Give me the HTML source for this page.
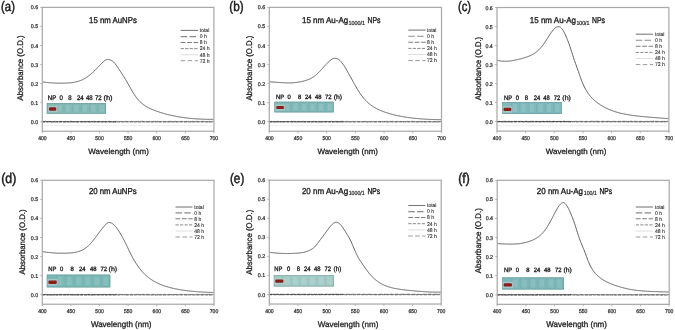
<!DOCTYPE html>
<html><head><meta charset="utf-8"><style>
html,body{margin:0;padding:0;background:#fff;width:675px;height:330px;overflow:hidden}
svg{display:block;filter:blur(0.3px)}
text{font-family:"Liberation Sans",sans-serif;font-size:200px;text-rendering:geometricPrecision}
</style></head><body>
<svg width="675" height="330" viewBox="0 0 675 330">
<defs><filter id="g" x="0" y="0" width="1" height="1"><feColorMatrix type="saturate" values="0"/></filter></defs>
<rect width="675" height="330" fill="#fff"/>
<path d="M43.30 125.73 L44.30 125.78 L45.30 125.73 L46.30 125.57 L47.30 125.79 L48.30 125.74 L49.30 125.65 L50.30 125.76 L51.30 125.74 L52.30 125.73 L53.30 125.70 L54.30 125.75 L55.30 125.63 L56.30 125.68 L57.30 125.65 L58.30 125.76 L59.30 125.70 L60.30 125.67 L61.30 125.62 L62.30 125.67 L63.30 125.70 L64.30 125.67 L65.30 125.83 L66.30 125.80 L67.30 125.43 L68.30 125.51 L69.30 125.68 L70.30 125.66 L71.30 125.72 L72.30 125.72 L73.30 125.91 L74.30 125.59 L75.30 125.66 L76.30 125.90 L77.30 125.76 L78.30 125.77 L79.30 125.65 L80.30 125.54 L81.30 125.72 L82.30 125.71 L83.30 125.58 L84.30 125.63 L85.30 125.69 L86.30 125.61 L87.30 125.69 L88.30 125.71 L89.30 125.70 L90.30 125.65 L91.30 125.76 L92.30 125.79 L93.30 125.73 L94.30 125.62 L95.30 125.77 L96.30 125.65 L97.30 125.79 L98.30 125.59 L99.30 125.79 L100.30 125.70 L101.30 125.58 L102.30 125.67 L103.30 125.71 L104.30 125.73 L105.30 125.60 L106.30 125.59 L107.30 125.72 L108.30 125.65 L109.30 125.72 L110.30 125.78 L111.30 125.54 L112.30 125.73 L113.30 125.82 L114.30 125.67 L115.30 125.62 L116.30 125.78 L117.30 125.73 L118.30 125.79 L119.30 125.67 L120.30 125.55 L121.30 125.69 L122.30 125.66 L123.30 125.78 L124.30 125.72 L125.30 125.54 L126.30 125.58 L127.30 125.79 L128.30 125.77 L129.30 125.64 L130.30 125.70 L131.30 125.74 L132.30 125.75 L133.30 125.79 L134.30 125.73 L135.30 125.69 L136.30 125.67 L137.30 125.81 L138.30 125.47 L139.30 125.69 L140.30 125.70 L141.30 125.56 L142.30 125.73 L143.30 125.63 L144.30 125.79 L145.30 125.69 L146.30 125.77 L147.30 125.82 L148.30 125.74 L149.30 125.61 L150.30 125.55 L151.30 125.88 L152.30 125.69 L153.30 125.63 L154.30 125.71 L155.30 125.68 L156.30 125.79 L157.30 125.70 L158.30 125.70 L159.30 125.63 L160.30 125.75 L161.30 125.60 L162.30 125.77 L163.30 125.85 L164.30 125.55 L165.30 125.45 L166.30 125.76 L167.30 125.95 L168.30 125.60 L169.30 125.57 L170.30 125.76 L171.30 125.62 L172.30 125.65 L173.30 125.67 L174.30 125.75 L175.30 125.66 L176.30 125.73 L177.30 125.68 L178.30 125.62 L179.30 125.67 L180.30 125.60 L181.30 125.70 L182.30 125.59 L183.30 125.59 L184.30 125.85 L185.30 125.69 L186.30 125.69 L187.30 125.75 L188.30 125.66 L189.30 125.68 L190.30 125.74 L191.30 125.73 L192.30 125.58 L193.30 125.78 L194.30 125.64 L195.30 125.59 L196.30 125.61 L197.30 125.66 L198.30 125.86 L199.30 125.58 L200.30 125.72 L201.30 125.49 L202.30 125.70 L203.30 125.79 L204.30 125.68 L205.30 125.64 L206.30 125.72 L207.30 125.77 L208.30 125.77 L209.30 125.90 L210.30 125.72 L211.30 125.64 L212.30 125.69" stroke="#ececec" stroke-width="0.9" fill="none"/>
<path d="M42.30 121.66 L45.30 121.63 L48.30 121.69 L51.30 121.72 L54.30 121.76 L57.30 121.71 L60.30 121.67 L63.30 121.66 L66.30 121.74 L69.30 121.78 L72.30 121.71 L75.30 121.64 L78.30 121.65 L81.30 121.78 L84.30 121.71 L87.30 121.61 L90.30 121.70 L93.30 121.64 L96.30 121.67 L99.30 121.68 L102.30 121.66 L105.30 121.73 L108.30 121.70 L111.30 121.67 L114.30 121.72 L117.30 121.74 L120.30 121.62 L123.30 121.69 L126.30 121.65 L129.30 121.69 L132.30 121.64 L135.30 121.70 L138.30 121.70 L141.30 121.68 L144.30 121.65 L147.30 121.68 L150.30 121.65 L153.30 121.63 L156.30 121.71 L159.30 121.64 L162.30 121.76 L165.30 121.74 L168.30 121.60 L171.30 121.71 L174.30 121.64 L177.30 121.70 L180.30 121.70 L183.30 121.60 L186.30 121.69 L189.30 121.69 L192.30 121.75 L195.30 121.64 L198.30 121.74 L201.30 121.65 L204.30 121.68 L207.30 121.66 L210.30 121.77 L213.30 121.73" stroke="#8a8a8a" stroke-width="0.8" fill="none"/>
<path d="M42.30 121.47 L43.30 121.41 L44.30 121.42 L45.30 121.25 L46.30 121.59 L47.30 121.54 L48.30 121.42 L49.30 121.51 L50.30 121.47 L51.30 121.41 L52.30 121.53 L53.30 121.43 L54.30 121.42 L55.30 121.39 L56.30 121.49 L57.30 121.44 L58.30 121.49 L59.30 121.40 L60.30 121.46 L61.30 121.38 L62.30 121.52 L63.30 121.47 L64.30 121.48 L65.30 121.48 L66.30 121.37 L67.30 121.51 L68.30 121.61 L69.30 121.32 L70.30 121.31 L71.30 121.33 L72.30 121.52 L73.30 121.46 L74.30 121.54 L75.30 121.51 L76.30 121.47 L77.30 121.47 L78.30 121.44 L79.30 121.52 L80.30 121.36 L81.30 121.42 L82.30 121.47 L83.30 121.59 L84.30 121.39 L85.30 121.36 L86.30 121.40 L87.30 121.53 L88.30 121.43 L89.30 121.56 L90.30 121.30 L91.30 121.54 L92.30 121.53 L93.30 121.34 L94.30 121.46 L95.30 121.55 L96.30 121.46 L97.30 121.53 L98.30 121.64 L99.30 121.47 L100.30 121.43 L101.30 121.39 L102.30 121.50 L103.30 121.43 L104.30 121.44 L105.30 121.44 L106.30 121.50 L107.30 121.36 L108.30 121.33 L109.30 121.26 L110.30 121.55 L111.30 121.46 L112.30 121.57 L113.30 121.45 L114.30 121.39 L115.30 121.49 L116.30 121.44 L117.30 121.35 L118.30 121.38 L119.30 121.59 L120.30 121.48 L121.30 121.48 L122.30 121.43 L123.30 121.39 L124.30 121.52 L125.30 121.44 L126.30 121.39 L127.30 121.44 L128.30 121.38 L129.30 121.47 L130.30 121.54 L131.30 121.38 L132.30 121.56 L133.30 121.40 L134.30 121.46 L135.30 121.38 L136.30 121.43 L137.30 121.45 L138.30 121.42 L139.30 121.39 L140.30 121.40 L141.30 121.38 L142.30 121.32 L143.30 121.43 L144.30 121.48 L145.30 121.52 L146.30 121.50 L147.30 121.65 L148.30 121.48 L149.30 121.41 L150.30 121.60 L151.30 121.37 L152.30 121.53 L153.30 121.37 L154.30 121.48 L155.30 121.29 L156.30 121.52 L157.30 121.44 L158.30 121.37 L159.30 121.58 L160.30 121.51 L161.30 121.45 L162.30 121.39 L163.30 121.45 L164.30 121.44 L165.30 121.51 L166.30 121.51 L167.30 121.40 L168.30 121.41 L169.30 121.41 L170.30 121.34 L171.30 121.40 L172.30 121.44 L173.30 121.51 L174.30 121.56 L175.30 121.39 L176.30 121.49 L177.30 121.41 L178.30 121.62 L179.30 121.45 L180.30 121.49 L181.30 121.38 L182.30 121.39 L183.30 121.47 L184.30 121.42 L185.30 121.48 L186.30 121.33 L187.30 121.50 L188.30 121.38 L189.30 121.59 L190.30 121.43 L191.30 121.54 L192.30 121.34 L193.30 121.48 L194.30 121.38 L195.30 121.41 L196.30 121.45 L197.30 121.42 L198.30 121.47 L199.30 121.51 L200.30 121.50 L201.30 121.44 L202.30 121.34 L203.30 121.39 L204.30 121.43 L205.30 121.28 L206.30 121.51 L207.30 121.43 L208.30 121.43 L209.30 121.53 L210.30 121.50 L211.30 121.47 L212.30 121.37 L213.30 121.47" stroke="#666" stroke-width="0.7" fill="none" stroke-dasharray="4 1.5"/>
<path d="M42.30 122.11 L43.30 121.75 L44.30 121.98 L45.30 121.90 L46.30 121.91 L47.30 121.93 L48.30 121.79 L49.30 121.93 L50.30 121.88 L51.30 122.22 L52.30 121.97 L53.30 121.92 L54.30 121.93 L55.30 121.90 L56.30 121.87 L57.30 121.92 L58.30 121.99 L59.30 121.93 L60.30 122.03 L61.30 121.93 L62.30 121.95 L63.30 122.07 L64.30 121.99 L65.30 121.91 L66.30 121.94 L67.30 121.99 L68.30 122.10 L69.30 121.93 L70.30 121.93 L71.30 122.03 L72.30 121.88 L73.30 121.93 L74.30 122.02 L75.30 122.00 L76.30 121.96 L77.30 122.00 L78.30 121.72 L79.30 122.03 L80.30 121.87 L81.30 121.82 L82.30 121.97 L83.30 122.01 L84.30 121.91 L85.30 121.86 L86.30 121.95 L87.30 121.95 L88.30 122.06 L89.30 122.01 L90.30 121.97 L91.30 122.04 L92.30 121.93 L93.30 121.88 L94.30 122.00 L95.30 122.00 L96.30 121.93 L97.30 121.89 L98.30 121.97 L99.30 121.75 L100.30 122.01 L101.30 121.99 L102.30 121.82 L103.30 121.95 L104.30 121.87 L105.30 122.01 L106.30 121.79 L107.30 121.88 L108.30 122.01 L109.30 122.04 L110.30 121.78 L111.30 121.91 L112.30 121.98 L113.30 121.90 L114.30 122.08 L115.30 121.85 L116.30 121.98 L117.30 121.87 L118.30 122.06 L119.30 121.95 L120.30 121.92 L121.30 121.81 L122.30 122.08 L123.30 122.01 L124.30 122.01 L125.30 122.04 L126.30 121.98 L127.30 121.90 L128.30 121.89 L129.30 121.89 L130.30 122.06 L131.30 121.83 L132.30 121.90 L133.30 121.92 L134.30 121.97 L135.30 122.00 L136.30 121.85 L137.30 121.81 L138.30 121.95 L139.30 122.05 L140.30 122.01 L141.30 121.97 L142.30 121.92 L143.30 121.97 L144.30 121.93 L145.30 122.02 L146.30 121.89 L147.30 121.96 L148.30 121.94 L149.30 121.99 L150.30 121.97 L151.30 122.15 L152.30 122.07 L153.30 122.07 L154.30 121.79 L155.30 121.92 L156.30 121.90 L157.30 121.99 L158.30 121.77 L159.30 122.04 L160.30 122.04 L161.30 121.85 L162.30 121.87 L163.30 121.89 L164.30 121.95 L165.30 122.00 L166.30 122.11 L167.30 121.93 L168.30 122.01 L169.30 121.96 L170.30 122.09 L171.30 122.01 L172.30 122.06 L173.30 121.86 L174.30 121.93 L175.30 121.88 L176.30 122.07 L177.30 122.00 L178.30 121.93 L179.30 121.91 L180.30 121.99 L181.30 121.89 L182.30 121.88 L183.30 121.99 L184.30 122.15 L185.30 121.93 L186.30 121.91 L187.30 121.86 L188.30 121.84 L189.30 121.99 L190.30 122.02 L191.30 121.95 L192.30 121.98 L193.30 121.96 L194.30 121.96 L195.30 121.83 L196.30 121.91 L197.30 121.96 L198.30 121.89 L199.30 121.91 L200.30 121.88 L201.30 121.92 L202.30 122.02 L203.30 121.92 L204.30 121.94 L205.30 122.02 L206.30 122.00 L207.30 122.09 L208.30 121.78 L209.30 122.02 L210.30 121.91 L211.30 121.96 L212.30 122.02 L213.30 122.04" stroke="#555" stroke-width="0.7" fill="none" stroke-dasharray="3 1.2"/>
<path d="M42.30 121.63 L43.30 121.68 L44.30 121.87 L45.30 121.77 L46.30 121.54 L47.30 121.70 L48.30 121.64 L49.30 121.71 L50.30 121.54 L51.30 121.72 L52.30 121.72 L53.30 121.86 L54.30 121.73 L55.30 121.75 L56.30 121.55 L57.30 121.93 L58.30 121.51 L59.30 121.81 L60.30 121.67 L61.30 121.61 L62.30 121.63 L63.30 121.63 L64.30 121.74 L65.30 121.69 L66.30 121.85 L67.30 121.52 L68.30 121.70 L69.30 121.61 L70.30 121.78 L71.30 121.49 L72.30 121.67 L73.30 121.72 L74.30 121.55 L75.30 121.80 L76.30 121.72 L77.30 121.80 L78.30 121.80 L79.30 121.60 L80.30 121.62 L81.30 121.68 L82.30 121.77 L83.30 121.79 L84.30 121.63 L85.30 121.64 L86.30 121.62 L87.30 121.64 L88.30 121.68 L89.30 121.69 L90.30 121.91 L91.30 121.65 L92.30 121.67 L93.30 121.75 L94.30 121.60 L95.30 121.66 L96.30 121.70 L97.30 121.78 L98.30 121.57 L99.30 121.84 L100.30 121.66 L101.30 121.72 L102.30 121.78 L103.30 121.77 L104.30 121.81 L105.30 121.72 L106.30 121.70 L107.30 121.73 L108.30 121.60 L109.30 121.82 L110.30 121.62 L111.30 121.57 L112.30 121.91 L113.30 121.69 L114.30 121.58 L115.30 121.89 L116.30 121.67" stroke="#333" stroke-width="0.8" fill="none" stroke-dasharray="2.5 1"/>
<path d="M42.60 81.94 L43.10 82.01 L43.60 82.08 L44.10 82.15 L44.60 82.21 L45.10 82.28 L45.60 82.34 L46.10 82.39 L46.60 82.45 L47.10 82.50 L47.60 82.56 L48.10 82.61 L48.60 82.65 L49.10 82.70 L49.60 82.74 L50.10 82.78 L50.60 82.82 L51.10 82.86 L51.60 82.89 L52.10 82.93 L52.60 82.96 L53.10 82.99 L53.60 83.01 L54.10 83.04 L54.60 83.06 L55.10 83.08 L55.60 83.10 L56.10 83.12 L56.60 83.14 L57.10 83.15 L57.60 83.17 L58.10 83.18 L58.60 83.19 L59.10 83.19 L59.60 83.20 L60.10 83.20 L60.60 83.21 L61.10 83.21 L61.60 83.20 L62.10 83.20 L62.60 83.19 L63.10 83.19 L63.60 83.18 L64.10 83.17 L64.60 83.15 L65.10 83.13 L65.60 83.11 L66.10 83.09 L66.60 83.07 L67.10 83.04 L67.60 83.01 L68.10 82.98 L68.60 82.94 L69.10 82.90 L69.60 82.86 L70.10 82.81 L70.60 82.76 L71.10 82.70 L71.60 82.64 L72.10 82.58 L72.60 82.51 L73.10 82.43 L73.60 82.35 L74.10 82.27 L74.60 82.17 L75.10 82.07 L75.60 81.97 L76.10 81.85 L76.60 81.73 L77.10 81.61 L77.60 81.47 L78.10 81.32 L78.60 81.17 L79.10 81.01 L79.60 80.84 L80.10 80.66 L80.60 80.46 L81.10 80.26 L81.60 80.05 L82.10 79.83 L82.60 79.60 L83.10 79.35 L83.60 79.10 L84.10 78.83 L84.60 78.55 L85.10 78.27 L85.60 77.97 L86.10 77.65 L86.60 77.33 L87.10 77.00 L87.60 76.65 L88.10 76.29 L88.60 75.93 L89.10 75.55 L89.60 75.16 L90.10 74.76 L90.60 74.35 L91.10 73.93 L91.60 73.50 L92.10 73.06 L92.60 72.61 L93.10 72.15 L93.60 71.68 L94.10 71.21 L94.60 70.72 L95.10 70.23 L95.60 69.73 L96.10 69.22 L96.60 68.70 L97.10 68.18 L97.60 67.65 L98.10 67.12 L98.60 66.58 L99.10 66.04 L99.60 65.50 L100.10 64.96 L100.60 64.42 L101.10 63.89 L101.60 63.37 L102.10 62.86 L102.60 62.37 L103.10 61.91 L103.60 61.46 L104.10 61.05 L104.60 60.67 L105.10 60.34 L105.60 60.04 L106.10 59.80 L106.60 59.61 L107.10 59.47 L107.60 59.40 L108.10 59.39 L108.60 59.44 L109.10 59.56 L109.60 59.72 L110.10 59.91 L110.60 60.11 L111.10 60.35 L111.60 60.61 L112.10 60.91 L112.60 61.26 L113.10 61.65 L113.60 62.09 L114.10 62.58 L114.60 63.13 L115.10 63.71 L115.60 64.34 L116.10 65.01 L116.60 65.70 L117.10 66.42 L117.60 67.15 L118.10 67.90 L118.60 68.66 L119.10 69.42 L119.60 70.18 L120.10 70.95 L120.60 71.71 L121.10 72.48 L121.60 73.25 L122.10 74.02 L122.60 74.80 L123.10 75.59 L123.60 76.38 L124.10 77.19 L124.60 77.99 L125.10 78.81 L125.60 79.63 L126.10 80.47 L126.60 81.31 L127.10 82.16 L127.60 83.01 L128.10 83.88 L128.60 84.75 L129.10 85.64 L129.60 86.53 L130.10 87.43 L130.60 88.33 L131.10 89.22 L131.60 90.11 L132.10 90.98 L132.60 91.83 L133.10 92.66 L133.60 93.47 L134.10 94.26 L134.60 95.02 L135.10 95.75 L135.60 96.46 L136.10 97.15 L136.60 97.81 L137.10 98.45 L137.60 99.06 L138.10 99.66 L138.60 100.22 L139.10 100.77 L139.60 101.29 L140.10 101.79 L140.60 102.27 L141.10 102.72 L141.60 103.16 L142.10 103.58 L142.60 103.98 L143.10 104.37 L143.60 104.74 L144.10 105.09 L144.60 105.44 L145.10 105.76 L145.60 106.08 L146.10 106.38 L146.60 106.68 L147.10 106.96 L147.60 107.24 L148.10 107.50 L148.60 107.76 L149.10 108.01 L149.60 108.26 L150.10 108.50 L150.60 108.73 L151.10 108.96 L151.60 109.18 L152.10 109.40 L152.60 109.62 L153.10 109.82 L153.60 110.03 L154.10 110.23 L154.60 110.43 L155.10 110.62 L155.60 110.81 L156.10 110.99 L156.60 111.17 L157.10 111.35 L157.60 111.53 L158.10 111.70 L158.60 111.87 L159.10 112.04 L159.60 112.20 L160.10 112.36 L160.60 112.52 L161.10 112.68 L161.60 112.83 L162.10 112.98 L162.60 113.13 L163.10 113.28 L163.60 113.42 L164.10 113.56 L164.60 113.70 L165.10 113.84 L165.60 113.98 L166.10 114.11 L166.60 114.24 L167.10 114.37 L167.60 114.50 L168.10 114.62 L168.60 114.75 L169.10 114.87 L169.60 114.99 L170.10 115.11 L170.60 115.22 L171.10 115.33 L171.60 115.45 L172.10 115.55 L172.60 115.66 L173.10 115.77 L173.60 115.87 L174.10 115.97 L174.60 116.07 L175.10 116.17 L175.60 116.27 L176.10 116.36 L176.60 116.46 L177.10 116.55 L177.60 116.64 L178.10 116.73 L178.60 116.81 L179.10 116.90 L179.60 116.98 L180.10 117.06 L180.60 117.14 L181.10 117.22 L181.60 117.30 L182.10 117.37 L182.60 117.44 L183.10 117.51 L183.60 117.58 L184.10 117.65 L184.60 117.72 L185.10 117.78 L185.60 117.85 L186.10 117.91 L186.60 117.97 L187.10 118.03 L187.60 118.09 L188.10 118.14 L188.60 118.20 L189.10 118.25 L189.60 118.30 L190.10 118.35 L190.60 118.40 L191.10 118.45 L191.60 118.50 L192.10 118.54 L192.60 118.59 L193.10 118.63 L193.60 118.67 L194.10 118.71 L194.60 118.75 L195.10 118.78 L195.60 118.82 L196.10 118.86 L196.60 118.89 L197.10 118.92 L197.60 118.95 L198.10 118.98 L198.60 119.01 L199.10 119.04 L199.60 119.06 L200.10 119.09 L200.60 119.11 L201.10 119.13 L201.60 119.16 L202.10 119.18 L202.60 119.20 L203.10 119.21 L203.60 119.23 L204.10 119.25 L204.60 119.26 L205.10 119.27 L205.60 119.29 L206.10 119.30 L206.60 119.31 L207.10 119.32 L207.60 119.32 L208.10 119.33 L208.60 119.34 L209.10 119.34 L209.60 119.34 L210.10 119.35 L210.60 119.35 L211.10 119.35 L211.60 119.35 L212.10 119.34 L212.60 119.34 L213.10 119.34 L213.60 119.33" stroke="#5e5e5e" stroke-width="1.0" fill="none"/>
<rect x="42.3" y="7.4" width="171.6" height="123.825" fill="none" stroke="#aaaaaa" stroke-width="1.25"/>
<line x1="40.3" y1="121.7" x2="42.3" y2="121.7" stroke="#aaaaaa" stroke-width="0.9"/>
<line x1="40.3" y1="102.65" x2="42.3" y2="102.65" stroke="#aaaaaa" stroke-width="0.9"/>
<line x1="40.3" y1="83.6" x2="42.3" y2="83.6" stroke="#aaaaaa" stroke-width="0.9"/>
<line x1="40.3" y1="64.55" x2="42.3" y2="64.55" stroke="#aaaaaa" stroke-width="0.9"/>
<line x1="40.3" y1="45.5" x2="42.3" y2="45.5" stroke="#aaaaaa" stroke-width="0.9"/>
<line x1="40.3" y1="26.45" x2="42.3" y2="26.45" stroke="#aaaaaa" stroke-width="0.9"/>
<line x1="40.3" y1="7.4" x2="42.3" y2="7.4" stroke="#aaaaaa" stroke-width="0.9"/>
<line x1="42.3" y1="131.225" x2="42.3" y2="133.225" stroke="#aaaaaa" stroke-width="0.9"/>
<line x1="70.9" y1="131.225" x2="70.9" y2="133.225" stroke="#aaaaaa" stroke-width="0.9"/>
<line x1="99.5" y1="131.225" x2="99.5" y2="133.225" stroke="#aaaaaa" stroke-width="0.9"/>
<line x1="128.1" y1="131.225" x2="128.1" y2="133.225" stroke="#aaaaaa" stroke-width="0.9"/>
<line x1="156.7" y1="131.225" x2="156.7" y2="133.225" stroke="#aaaaaa" stroke-width="0.9"/>
<line x1="185.3" y1="131.225" x2="185.3" y2="133.225" stroke="#aaaaaa" stroke-width="0.9"/>
<line x1="213.9" y1="131.225" x2="213.9" y2="133.225" stroke="#aaaaaa" stroke-width="0.9"/>
<line x1="180.7" y1="30.4" x2="198" y2="30.4" stroke="#7c7c7c" stroke-width="1.1"/>
<line x1="180.7" y1="36.6" x2="198" y2="36.6" stroke="#8a8a8a" stroke-width="1.1" stroke-dasharray="6.5 2.3"/>
<line x1="180.7" y1="42.5" x2="198" y2="42.5" stroke="#7c7c7c" stroke-width="1.1" stroke-dasharray="4.8 1.6"/>
<line x1="180.7" y1="48.6" x2="198" y2="48.6" stroke="#8a8a8a" stroke-width="1.0" stroke-dasharray="3.2 1.3"/>
<line x1="180.7" y1="54.8" x2="198" y2="54.8" stroke="#dddddd" stroke-width="1.0"/>
<line x1="180.7" y1="60.7" x2="198" y2="60.7" stroke="#9a9a9a" stroke-width="1.0" stroke-dasharray="4.5 2.5"/>
<rect x="46.8" y="103.1" width="59.2" height="10.6" fill="#82b9b6"/>
<rect x="47.15" y="103.45" width="58.5" height="9.9" fill="none" stroke="#6a9996" stroke-width="0.7" opacity="0.8"/>
<rect x="55.257" y="104.1" width="0.8" height="8.6" fill="#5c9a96" opacity="0.22"/>
<rect x="63.714" y="104.1" width="0.8" height="8.6" fill="#5c9a96" opacity="0.22"/>
<rect x="72.171" y="104.1" width="0.8" height="8.6" fill="#5c9a96" opacity="0.22"/>
<rect x="80.629" y="104.1" width="0.8" height="8.6" fill="#5c9a96" opacity="0.22"/>
<rect x="89.086" y="104.1" width="0.8" height="8.6" fill="#5c9a96" opacity="0.22"/>
<rect x="97.543" y="104.1" width="0.8" height="8.6" fill="#5c9a96" opacity="0.22"/>
<rect x="57.371" y="105.1" width="4.229" height="6.6" fill="#ffffff" opacity="0.1"/>
<rect x="65.829" y="105.1" width="4.229" height="6.6" fill="#ffffff" opacity="0.1"/>
<rect x="74.286" y="105.1" width="4.229" height="6.6" fill="#ffffff" opacity="0.1"/>
<rect x="82.743" y="105.1" width="4.229" height="6.6" fill="#ffffff" opacity="0.1"/>
<rect x="91.2" y="105.1" width="4.229" height="6.6" fill="#ffffff" opacity="0.1"/>
<rect x="99.657" y="105.1" width="4.229" height="6.6" fill="#ffffff" opacity="0.1"/>
<rect x="48.2" y="105.6" width="8.8" height="6.7" fill="#b5cfcc" opacity="0.7"/>
<rect x="49" y="107.2" width="7.2" height="3.5" rx="1.2" fill="#8c1c18"/>
<path d="M270.30 125.53 L271.30 125.57 L272.30 125.56 L273.30 125.66 L274.30 125.47 L275.30 125.68 L276.30 125.60 L277.30 125.79 L278.30 125.80 L279.30 125.84 L280.30 125.78 L281.30 125.69 L282.30 125.79 L283.30 125.85 L284.30 125.63 L285.30 125.76 L286.30 125.70 L287.30 125.84 L288.30 125.62 L289.30 125.67 L290.30 125.74 L291.30 125.73 L292.30 125.54 L293.30 125.74 L294.30 125.69 L295.30 125.68 L296.30 125.68 L297.30 125.72 L298.30 125.52 L299.30 125.86 L300.30 125.61 L301.30 125.48 L302.30 125.69 L303.30 125.85 L304.30 125.65 L305.30 125.86 L306.30 125.86 L307.30 125.61 L308.30 125.45 L309.30 125.58 L310.30 125.82 L311.30 125.62 L312.30 125.55 L313.30 125.57 L314.30 125.70 L315.30 125.70 L316.30 125.79 L317.30 125.80 L318.30 125.61 L319.30 125.68 L320.30 125.59 L321.30 125.71 L322.30 125.58 L323.30 125.58 L324.30 125.91 L325.30 125.70 L326.30 125.76 L327.30 125.95 L328.30 125.78 L329.30 125.69 L330.30 125.71 L331.30 125.63 L332.30 125.81 L333.30 125.67 L334.30 125.88 L335.30 125.67 L336.30 125.66 L337.30 125.66 L338.30 125.76 L339.30 125.72 L340.30 125.84 L341.30 125.64 L342.30 125.73 L343.30 125.89 L344.30 125.68 L345.30 125.75 L346.30 125.86 L347.30 125.76 L348.30 125.64 L349.30 125.49 L350.30 125.94 L351.30 125.74 L352.30 125.83 L353.30 125.65 L354.30 125.88 L355.30 125.75 L356.30 125.70 L357.30 125.61 L358.30 125.74 L359.30 125.65 L360.30 125.68 L361.30 125.54 L362.30 125.65 L363.30 125.72 L364.30 125.57 L365.30 125.71 L366.30 125.77 L367.30 125.67 L368.30 125.64 L369.30 125.64 L370.30 125.79 L371.30 125.55 L372.30 125.67 L373.30 125.66 L374.30 125.71 L375.30 125.69 L376.30 125.59 L377.30 125.90 L378.30 125.72 L379.30 125.57 L380.30 125.61 L381.30 125.71 L382.30 125.76 L383.30 125.57 L384.30 125.77 L385.30 125.56 L386.30 125.62 L387.30 125.79 L388.30 125.87 L389.30 125.69 L390.30 125.67 L391.30 125.83 L392.30 125.59 L393.30 125.73 L394.30 125.72 L395.30 125.80 L396.30 125.73 L397.30 125.67 L398.30 125.76 L399.30 125.59 L400.30 125.78 L401.30 125.63 L402.30 125.61 L403.30 125.66 L404.30 125.70 L405.30 125.77 L406.30 125.68 L407.30 125.77 L408.30 125.80 L409.30 125.69 L410.30 125.60 L411.30 125.79 L412.30 125.73 L413.30 125.49 L414.30 125.60 L415.30 125.71 L416.30 125.56 L417.30 125.63 L418.30 125.53 L419.30 125.74 L420.30 125.72 L421.30 125.72 L422.30 125.84 L423.30 125.66 L424.30 125.67 L425.30 125.90 L426.30 125.57 L427.30 125.77 L428.30 125.57 L429.30 125.72 L430.30 125.91 L431.30 125.73 L432.30 125.62 L433.30 125.94 L434.30 125.65 L435.30 125.68 L436.30 125.73 L437.30 125.57 L438.30 125.81 L439.30 125.86 L440.30 125.78" stroke="#ececec" stroke-width="0.9" fill="none"/>
<path d="M269.30 121.70 L272.30 121.75 L275.30 121.74 L278.30 121.74 L281.30 121.78 L284.30 121.64 L287.30 121.67 L290.30 121.63 L293.30 121.69 L296.30 121.75 L299.30 121.70 L302.30 121.72 L305.30 121.60 L308.30 121.71 L311.30 121.65 L314.30 121.79 L317.30 121.74 L320.30 121.75 L323.30 121.70 L326.30 121.73 L329.30 121.73 L332.30 121.68 L335.30 121.68 L338.30 121.69 L341.30 121.67 L344.30 121.67 L347.30 121.69 L350.30 121.66 L353.30 121.74 L356.30 121.62 L359.30 121.74 L362.30 121.67 L365.30 121.67 L368.30 121.63 L371.30 121.69 L374.30 121.69 L377.30 121.71 L380.30 121.67 L383.30 121.70 L386.30 121.79 L389.30 121.72 L392.30 121.67 L395.30 121.75 L398.30 121.69 L401.30 121.73 L404.30 121.73 L407.30 121.68 L410.30 121.60 L413.30 121.68 L416.30 121.73 L419.30 121.68 L422.30 121.72 L425.30 121.75 L428.30 121.67 L431.30 121.76 L434.30 121.78 L437.30 121.75 L440.30 121.76" stroke="#8a8a8a" stroke-width="0.8" fill="none"/>
<path d="M269.30 121.39 L270.30 121.47 L271.30 121.32 L272.30 121.50 L273.30 121.54 L274.30 121.41 L275.30 121.48 L276.30 121.47 L277.30 121.42 L278.30 121.38 L279.30 121.29 L280.30 121.56 L281.30 121.45 L282.30 121.65 L283.30 121.52 L284.30 121.47 L285.30 121.40 L286.30 121.56 L287.30 121.41 L288.30 121.58 L289.30 121.42 L290.30 121.46 L291.30 121.33 L292.30 121.64 L293.30 121.44 L294.30 121.42 L295.30 121.51 L296.30 121.38 L297.30 121.51 L298.30 121.36 L299.30 121.49 L300.30 121.37 L301.30 121.30 L302.30 121.40 L303.30 121.33 L304.30 121.49 L305.30 121.45 L306.30 121.49 L307.30 121.46 L308.30 121.42 L309.30 121.45 L310.30 121.53 L311.30 121.44 L312.30 121.39 L313.30 121.37 L314.30 121.43 L315.30 121.39 L316.30 121.60 L317.30 121.36 L318.30 121.36 L319.30 121.43 L320.30 121.50 L321.30 121.43 L322.30 121.37 L323.30 121.39 L324.30 121.42 L325.30 121.53 L326.30 121.37 L327.30 121.44 L328.30 121.40 L329.30 121.48 L330.30 121.48 L331.30 121.33 L332.30 121.64 L333.30 121.47 L334.30 121.41 L335.30 121.38 L336.30 121.43 L337.30 121.45 L338.30 121.50 L339.30 121.45 L340.30 121.49 L341.30 121.32 L342.30 121.39 L343.30 121.37 L344.30 121.46 L345.30 121.49 L346.30 121.33 L347.30 121.44 L348.30 121.51 L349.30 121.52 L350.30 121.36 L351.30 121.50 L352.30 121.48 L353.30 121.42 L354.30 121.61 L355.30 121.36 L356.30 121.43 L357.30 121.49 L358.30 121.47 L359.30 121.44 L360.30 121.56 L361.30 121.57 L362.30 121.52 L363.30 121.53 L364.30 121.45 L365.30 121.36 L366.30 121.63 L367.30 121.37 L368.30 121.63 L369.30 121.44 L370.30 121.47 L371.30 121.44 L372.30 121.53 L373.30 121.41 L374.30 121.60 L375.30 121.49 L376.30 121.46 L377.30 121.40 L378.30 121.47 L379.30 121.45 L380.30 121.60 L381.30 121.52 L382.30 121.33 L383.30 121.57 L384.30 121.26 L385.30 121.57 L386.30 121.30 L387.30 121.45 L388.30 121.51 L389.30 121.45 L390.30 121.36 L391.30 121.55 L392.30 121.31 L393.30 121.33 L394.30 121.56 L395.30 121.38 L396.30 121.47 L397.30 121.51 L398.30 121.44 L399.30 121.47 L400.30 121.46 L401.30 121.47 L402.30 121.54 L403.30 121.52 L404.30 121.48 L405.30 121.52 L406.30 121.41 L407.30 121.39 L408.30 121.37 L409.30 121.51 L410.30 121.58 L411.30 121.46 L412.30 121.29 L413.30 121.41 L414.30 121.49 L415.30 121.47 L416.30 121.46 L417.30 121.53 L418.30 121.52 L419.30 121.34 L420.30 121.48 L421.30 121.39 L422.30 121.47 L423.30 121.55 L424.30 121.60 L425.30 121.51 L426.30 121.41 L427.30 121.42 L428.30 121.49 L429.30 121.37 L430.30 121.44 L431.30 121.50 L432.30 121.52 L433.30 121.43 L434.30 121.48 L435.30 121.56 L436.30 121.47 L437.30 121.31 L438.30 121.47 L439.30 121.47 L440.30 121.42 L441.30 121.45" stroke="#666" stroke-width="0.7" fill="none" stroke-dasharray="4 1.5"/>
<path d="M269.30 121.86 L270.30 121.89 L271.30 121.89 L272.30 121.97 L273.30 121.93 L274.30 121.96 L275.30 122.02 L276.30 122.02 L277.30 121.99 L278.30 121.91 L279.30 121.89 L280.30 121.88 L281.30 121.92 L282.30 121.95 L283.30 121.87 L284.30 121.86 L285.30 121.97 L286.30 121.80 L287.30 121.94 L288.30 121.98 L289.30 121.87 L290.30 121.86 L291.30 121.89 L292.30 122.00 L293.30 121.94 L294.30 121.80 L295.30 121.92 L296.30 122.03 L297.30 122.03 L298.30 122.00 L299.30 121.93 L300.30 121.80 L301.30 121.96 L302.30 121.94 L303.30 121.96 L304.30 122.07 L305.30 121.96 L306.30 121.97 L307.30 122.00 L308.30 121.93 L309.30 121.90 L310.30 121.89 L311.30 122.01 L312.30 121.99 L313.30 121.91 L314.30 122.04 L315.30 121.96 L316.30 121.84 L317.30 122.00 L318.30 121.94 L319.30 121.84 L320.30 121.99 L321.30 121.92 L322.30 121.92 L323.30 122.00 L324.30 121.77 L325.30 121.85 L326.30 121.92 L327.30 121.97 L328.30 121.90 L329.30 121.87 L330.30 121.87 L331.30 121.94 L332.30 122.00 L333.30 121.83 L334.30 121.78 L335.30 121.93 L336.30 121.92 L337.30 121.88 L338.30 122.00 L339.30 122.01 L340.30 121.90 L341.30 121.92 L342.30 122.00 L343.30 121.92 L344.30 121.84 L345.30 121.94 L346.30 121.88 L347.30 121.98 L348.30 121.91 L349.30 121.93 L350.30 121.99 L351.30 121.94 L352.30 121.90 L353.30 121.87 L354.30 122.09 L355.30 122.04 L356.30 121.83 L357.30 121.87 L358.30 122.00 L359.30 121.90 L360.30 121.95 L361.30 122.02 L362.30 121.96 L363.30 121.94 L364.30 121.91 L365.30 121.94 L366.30 121.98 L367.30 122.09 L368.30 122.04 L369.30 121.93 L370.30 122.02 L371.30 121.96 L372.30 121.83 L373.30 121.94 L374.30 122.03 L375.30 121.90 L376.30 122.02 L377.30 121.93 L378.30 121.95 L379.30 121.85 L380.30 122.12 L381.30 121.99 L382.30 122.03 L383.30 121.91 L384.30 121.83 L385.30 122.05 L386.30 121.89 L387.30 122.08 L388.30 121.94 L389.30 122.08 L390.30 121.89 L391.30 121.81 L392.30 122.01 L393.30 121.94 L394.30 121.95 L395.30 122.03 L396.30 121.88 L397.30 121.85 L398.30 121.86 L399.30 121.82 L400.30 121.81 L401.30 121.85 L402.30 121.87 L403.30 121.91 L404.30 121.85 L405.30 121.94 L406.30 122.01 L407.30 121.93 L408.30 121.98 L409.30 121.87 L410.30 121.97 L411.30 121.98 L412.30 121.89 L413.30 121.82 L414.30 121.93 L415.30 121.94 L416.30 122.05 L417.30 121.91 L418.30 122.07 L419.30 121.75 L420.30 121.91 L421.30 121.90 L422.30 121.91 L423.30 121.89 L424.30 121.93 L425.30 122.07 L426.30 121.92 L427.30 122.03 L428.30 121.93 L429.30 121.94 L430.30 121.75 L431.30 121.94 L432.30 121.98 L433.30 121.84 L434.30 121.89 L435.30 121.87 L436.30 122.10 L437.30 121.86 L438.30 121.88 L439.30 121.72 L440.30 121.81 L441.30 121.95" stroke="#555" stroke-width="0.7" fill="none" stroke-dasharray="3 1.2"/>
<path d="M269.30 121.70 L270.30 121.84 L271.30 121.82 L272.30 121.65 L273.30 121.67 L274.30 121.65 L275.30 121.76 L276.30 121.69 L277.30 121.77 L278.30 121.52 L279.30 121.86 L280.30 121.69 L281.30 121.77 L282.30 121.69 L283.30 121.66 L284.30 121.75 L285.30 121.78 L286.30 121.68 L287.30 121.68 L288.30 121.77 L289.30 121.61 L290.30 121.55 L291.30 121.74 L292.30 121.63 L293.30 121.51 L294.30 121.62 L295.30 121.65 L296.30 121.58 L297.30 121.55 L298.30 121.70 L299.30 121.79 L300.30 121.68 L301.30 121.63 L302.30 121.74 L303.30 121.77 L304.30 121.67 L305.30 121.75 L306.30 121.80 L307.30 121.68 L308.30 121.62 L309.30 121.73 L310.30 121.72 L311.30 121.81 L312.30 121.57 L313.30 121.63 L314.30 121.62 L315.30 121.53 L316.30 121.71 L317.30 121.75 L318.30 121.63 L319.30 121.84 L320.30 121.78 L321.30 121.76 L322.30 121.74 L323.30 121.80 L324.30 121.57 L325.30 121.76 L326.30 121.76 L327.30 121.52 L328.30 121.73 L329.30 121.67 L330.30 121.78 L331.30 121.66 L332.30 121.70 L333.30 121.73 L334.30 121.61 L335.30 121.76 L336.30 121.69 L337.30 121.75 L338.30 121.65 L339.30 121.81 L340.30 121.76 L341.30 121.68 L342.30 121.76 L343.30 121.83" stroke="#333" stroke-width="0.8" fill="none" stroke-dasharray="2.5 1"/>
<path d="M269.60 81.79 L270.10 81.82 L270.60 81.86 L271.10 81.89 L271.60 81.93 L272.10 81.96 L272.60 82.00 L273.10 82.04 L273.60 82.07 L274.10 82.11 L274.60 82.15 L275.10 82.19 L275.60 82.22 L276.10 82.26 L276.60 82.30 L277.10 82.33 L277.60 82.37 L278.10 82.40 L278.61 82.44 L279.11 82.47 L279.61 82.51 L280.11 82.54 L280.61 82.57 L281.11 82.60 L281.61 82.63 L282.11 82.66 L282.61 82.69 L283.11 82.71 L283.61 82.74 L284.11 82.76 L284.61 82.78 L285.11 82.80 L285.61 82.82 L286.11 82.84 L286.61 82.85 L287.11 82.86 L287.61 82.87 L288.11 82.88 L288.61 82.88 L289.11 82.89 L289.61 82.88 L290.11 82.88 L290.61 82.87 L291.11 82.86 L291.61 82.84 L292.11 82.82 L292.61 82.80 L293.11 82.77 L293.61 82.73 L294.11 82.69 L294.61 82.65 L295.11 82.60 L295.62 82.54 L296.12 82.48 L296.62 82.42 L297.12 82.35 L297.62 82.28 L298.12 82.20 L298.62 82.12 L299.12 82.04 L299.62 81.95 L300.12 81.86 L300.62 81.76 L301.12 81.66 L301.62 81.55 L302.12 81.44 L302.62 81.33 L303.12 81.21 L303.62 81.09 L304.12 80.96 L304.62 80.83 L305.12 80.69 L305.62 80.54 L306.12 80.38 L306.62 80.22 L307.12 80.04 L307.62 79.86 L308.12 79.67 L308.62 79.46 L309.12 79.25 L309.62 79.02 L310.12 78.78 L310.62 78.53 L311.12 78.26 L311.62 77.99 L312.12 77.70 L312.63 77.39 L313.13 77.07 L313.63 76.73 L314.13 76.39 L314.63 76.02 L315.13 75.64 L315.63 75.24 L316.13 74.83 L316.63 74.40 L317.13 73.96 L317.63 73.50 L318.13 73.03 L318.63 72.54 L319.13 72.04 L319.63 71.52 L320.13 71.00 L320.63 70.46 L321.13 69.92 L321.63 69.37 L322.13 68.82 L322.63 68.26 L323.13 67.69 L323.63 67.13 L324.13 66.57 L324.63 66.00 L325.13 65.45 L325.63 64.89 L326.13 64.35 L326.63 63.81 L327.13 63.29 L327.63 62.77 L328.13 62.28 L328.63 61.80 L329.13 61.34 L329.63 60.90 L330.14 60.49 L330.64 60.10 L331.14 59.75 L331.64 59.43 L332.14 59.14 L332.64 58.89 L333.14 58.68 L333.64 58.51 L334.14 58.39 L334.64 58.31 L335.14 58.28 L335.64 58.30 L336.14 58.37 L336.64 58.49 L337.14 58.66 L337.64 58.89 L338.14 59.16 L338.64 59.49 L339.14 59.86 L339.64 60.29 L340.14 60.76 L340.64 61.28 L341.14 61.84 L341.64 62.44 L342.14 63.07 L342.64 63.75 L343.14 64.45 L343.64 65.19 L344.14 65.95 L344.64 66.73 L345.14 67.54 L345.64 68.36 L346.14 69.21 L346.64 70.06 L347.15 70.93 L347.65 71.80 L348.15 72.69 L348.65 73.58 L349.15 74.47 L349.65 75.38 L350.15 76.28 L350.65 77.19 L351.15 78.10 L351.65 79.01 L352.15 79.91 L352.65 80.82 L353.15 81.73 L353.65 82.63 L354.15 83.53 L354.65 84.42 L355.15 85.31 L355.65 86.18 L356.15 87.05 L356.65 87.91 L357.15 88.75 L357.65 89.58 L358.15 90.40 L358.65 91.20 L359.15 91.98 L359.65 92.74 L360.15 93.49 L360.65 94.21 L361.15 94.92 L361.65 95.60 L362.15 96.27 L362.65 96.92 L363.15 97.55 L363.65 98.16 L364.16 98.75 L364.66 99.32 L365.16 99.88 L365.66 100.41 L366.16 100.93 L366.66 101.43 L367.16 101.92 L367.66 102.39 L368.16 102.84 L368.66 103.28 L369.16 103.71 L369.66 104.11 L370.16 104.51 L370.66 104.89 L371.16 105.26 L371.66 105.62 L372.16 105.96 L372.66 106.30 L373.16 106.62 L373.66 106.94 L374.16 107.24 L374.66 107.54 L375.16 107.82 L375.66 108.10 L376.16 108.37 L376.66 108.63 L377.16 108.89 L377.66 109.14 L378.16 109.38 L378.66 109.61 L379.16 109.84 L379.66 110.07 L380.16 110.29 L380.66 110.50 L381.17 110.71 L381.67 110.91 L382.17 111.11 L382.67 111.31 L383.17 111.50 L383.67 111.68 L384.17 111.87 L384.67 112.05 L385.17 112.22 L385.67 112.39 L386.17 112.56 L386.67 112.73 L387.17 112.89 L387.67 113.05 L388.17 113.20 L388.67 113.35 L389.17 113.50 L389.67 113.65 L390.17 113.79 L390.67 113.93 L391.17 114.07 L391.67 114.21 L392.17 114.34 L392.67 114.47 L393.17 114.60 L393.67 114.73 L394.17 114.85 L394.67 114.97 L395.17 115.09 L395.67 115.21 L396.17 115.33 L396.67 115.44 L397.17 115.55 L397.67 115.66 L398.17 115.76 L398.68 115.87 L399.18 115.97 L399.68 116.07 L400.18 116.17 L400.68 116.27 L401.18 116.36 L401.68 116.45 L402.18 116.55 L402.68 116.64 L403.18 116.72 L403.68 116.81 L404.18 116.89 L404.68 116.97 L405.18 117.06 L405.68 117.13 L406.18 117.21 L406.68 117.29 L407.18 117.36 L407.68 117.43 L408.18 117.51 L408.68 117.58 L409.18 117.64 L409.68 117.71 L410.18 117.78 L410.68 117.84 L411.18 117.90 L411.68 117.96 L412.18 118.02 L412.68 118.08 L413.18 118.14 L413.68 118.19 L414.18 118.25 L414.68 118.30 L415.18 118.35 L415.69 118.40 L416.19 118.45 L416.69 118.50 L417.19 118.55 L417.69 118.59 L418.19 118.64 L418.69 118.68 L419.19 118.72 L419.69 118.77 L420.19 118.81 L420.69 118.84 L421.19 118.88 L421.69 118.92 L422.19 118.96 L422.69 118.99 L423.19 119.02 L423.69 119.06 L424.19 119.09 L424.69 119.12 L425.19 119.15 L425.69 119.18 L426.19 119.21 L426.69 119.24 L427.19 119.26 L427.69 119.29 L428.19 119.31 L428.69 119.34 L429.19 119.36 L429.69 119.38 L430.19 119.40 L430.69 119.42 L431.19 119.44 L431.69 119.46 L432.19 119.48 L432.70 119.49 L433.20 119.51 L433.70 119.52 L434.20 119.54 L434.70 119.55 L435.20 119.56 L435.70 119.57 L436.20 119.59 L436.70 119.60 L437.20 119.60 L437.70 119.61 L438.20 119.62 L438.70 119.63 L439.20 119.63 L439.70 119.64 L440.20 119.64 L440.70 119.65 L441.20 119.65" stroke="#5e5e5e" stroke-width="1.0" fill="none"/>
<rect x="269.3" y="7.4" width="172.2" height="123.825" fill="none" stroke="#aaaaaa" stroke-width="1.25"/>
<line x1="267.3" y1="121.7" x2="269.3" y2="121.7" stroke="#aaaaaa" stroke-width="0.9"/>
<line x1="267.3" y1="102.65" x2="269.3" y2="102.65" stroke="#aaaaaa" stroke-width="0.9"/>
<line x1="267.3" y1="83.6" x2="269.3" y2="83.6" stroke="#aaaaaa" stroke-width="0.9"/>
<line x1="267.3" y1="64.55" x2="269.3" y2="64.55" stroke="#aaaaaa" stroke-width="0.9"/>
<line x1="267.3" y1="45.5" x2="269.3" y2="45.5" stroke="#aaaaaa" stroke-width="0.9"/>
<line x1="267.3" y1="26.45" x2="269.3" y2="26.45" stroke="#aaaaaa" stroke-width="0.9"/>
<line x1="267.3" y1="7.4" x2="269.3" y2="7.4" stroke="#aaaaaa" stroke-width="0.9"/>
<line x1="269.3" y1="131.225" x2="269.3" y2="133.225" stroke="#aaaaaa" stroke-width="0.9"/>
<line x1="298" y1="131.225" x2="298" y2="133.225" stroke="#aaaaaa" stroke-width="0.9"/>
<line x1="326.7" y1="131.225" x2="326.7" y2="133.225" stroke="#aaaaaa" stroke-width="0.9"/>
<line x1="355.4" y1="131.225" x2="355.4" y2="133.225" stroke="#aaaaaa" stroke-width="0.9"/>
<line x1="384.1" y1="131.225" x2="384.1" y2="133.225" stroke="#aaaaaa" stroke-width="0.9"/>
<line x1="412.8" y1="131.225" x2="412.8" y2="133.225" stroke="#aaaaaa" stroke-width="0.9"/>
<line x1="441.5" y1="131.225" x2="441.5" y2="133.225" stroke="#aaaaaa" stroke-width="0.9"/>
<line x1="408.3" y1="30.1" x2="425.7" y2="30.1" stroke="#7c7c7c" stroke-width="1.1"/>
<line x1="408.3" y1="36.2" x2="425.7" y2="36.2" stroke="#8a8a8a" stroke-width="1.1" stroke-dasharray="6.5 2.3"/>
<line x1="408.3" y1="42.3" x2="425.7" y2="42.3" stroke="#7c7c7c" stroke-width="1.1" stroke-dasharray="4.8 1.6"/>
<line x1="408.3" y1="48.4" x2="425.7" y2="48.4" stroke="#8a8a8a" stroke-width="1.0" stroke-dasharray="3.2 1.3"/>
<line x1="408.3" y1="54.5" x2="425.7" y2="54.5" stroke="#dddddd" stroke-width="1.0"/>
<line x1="408.3" y1="60.6" x2="425.7" y2="60.6" stroke="#9a9a9a" stroke-width="1.0" stroke-dasharray="4.5 2.5"/>
<rect x="274.4" y="101.7" width="59.4" height="10.7" fill="#80b9b8"/>
<rect x="274.75" y="102.05" width="58.7" height="10" fill="none" stroke="#6a9996" stroke-width="0.7" opacity="0.8"/>
<rect x="282.886" y="102.7" width="0.8" height="8.7" fill="#5c9a96" opacity="0.22"/>
<rect x="291.371" y="102.7" width="0.8" height="8.7" fill="#5c9a96" opacity="0.22"/>
<rect x="299.857" y="102.7" width="0.8" height="8.7" fill="#5c9a96" opacity="0.22"/>
<rect x="308.343" y="102.7" width="0.8" height="8.7" fill="#5c9a96" opacity="0.22"/>
<rect x="316.829" y="102.7" width="0.8" height="8.7" fill="#5c9a96" opacity="0.22"/>
<rect x="325.314" y="102.7" width="0.8" height="8.7" fill="#5c9a96" opacity="0.22"/>
<rect x="285.007" y="103.7" width="4.243" height="6.7" fill="#ffffff" opacity="0.1"/>
<rect x="293.493" y="103.7" width="4.243" height="6.7" fill="#ffffff" opacity="0.1"/>
<rect x="301.979" y="103.7" width="4.243" height="6.7" fill="#ffffff" opacity="0.1"/>
<rect x="310.464" y="103.7" width="4.243" height="6.7" fill="#ffffff" opacity="0.1"/>
<rect x="318.95" y="103.7" width="4.243" height="6.7" fill="#ffffff" opacity="0.1"/>
<rect x="327.436" y="103.7" width="4.243" height="6.7" fill="#ffffff" opacity="0.1"/>
<rect x="275.5" y="104.4" width="9.2" height="6.3" fill="#b5cfcc" opacity="0.7"/>
<rect x="276.3" y="106" width="7.6" height="3.1" rx="1.2" fill="#8c1c18"/>
<path d="M498.00 125.46 L499.00 125.51 L500.00 125.64 L501.00 125.55 L502.00 125.65 L503.00 125.68 L504.00 125.46 L505.00 125.70 L506.00 125.54 L507.00 125.81 L508.00 125.67 L509.00 125.55 L510.00 125.62 L511.00 125.62 L512.00 125.63 L513.00 125.74 L514.00 125.65 L515.00 125.77 L516.00 125.66 L517.00 125.58 L518.00 125.45 L519.00 125.44 L520.00 125.62 L521.00 125.67 L522.00 125.74 L523.00 125.54 L524.00 125.61 L525.00 125.52 L526.00 125.56 L527.00 125.37 L528.00 125.67 L529.00 125.53 L530.00 125.59 L531.00 125.64 L532.00 125.63 L533.00 125.47 L534.00 125.75 L535.00 125.68 L536.00 125.65 L537.00 125.53 L538.00 125.44 L539.00 125.44 L540.00 125.58 L541.00 125.62 L542.00 125.53 L543.00 125.78 L544.00 125.63 L545.00 125.70 L546.00 125.69 L547.00 125.49 L548.00 125.70 L549.00 125.65 L550.00 125.47 L551.00 125.67 L552.00 125.71 L553.00 125.70 L554.00 125.71 L555.00 125.46 L556.00 125.58 L557.00 125.55 L558.00 125.61 L559.00 125.61 L560.00 125.71 L561.00 125.68 L562.00 125.52 L563.00 125.69 L564.00 125.76 L565.00 125.63 L566.00 125.45 L567.00 125.54 L568.00 125.58 L569.00 125.44 L570.00 125.59 L571.00 125.47 L572.00 125.68 L573.00 125.67 L574.00 125.59 L575.00 125.47 L576.00 125.63 L577.00 125.54 L578.00 125.53 L579.00 125.71 L580.00 125.52 L581.00 125.46 L582.00 125.68 L583.00 125.78 L584.00 125.76 L585.00 125.68 L586.00 125.81 L587.00 125.56 L588.00 125.82 L589.00 125.81 L590.00 125.57 L591.00 125.64 L592.00 125.47 L593.00 125.50 L594.00 125.66 L595.00 125.48 L596.00 125.62 L597.00 125.65 L598.00 125.61 L599.00 125.70 L600.00 125.80 L601.00 125.62 L602.00 125.70 L603.00 125.75 L604.00 125.56 L605.00 125.54 L606.00 125.36 L607.00 125.65 L608.00 125.71 L609.00 125.65 L610.00 125.81 L611.00 125.76 L612.00 125.68 L613.00 125.60 L614.00 125.51 L615.00 125.61 L616.00 125.65 L617.00 125.60 L618.00 125.57 L619.00 125.56 L620.00 125.67 L621.00 125.43 L622.00 125.57 L623.00 125.61 L624.00 125.67 L625.00 125.67 L626.00 125.58 L627.00 125.54 L628.00 125.49 L629.00 125.72 L630.00 125.66 L631.00 125.62 L632.00 125.53 L633.00 125.49 L634.00 125.72 L635.00 125.60 L636.00 125.65 L637.00 125.78 L638.00 125.45 L639.00 125.53 L640.00 125.64 L641.00 125.67 L642.00 125.50 L643.00 125.60 L644.00 125.54 L645.00 125.55 L646.00 125.64 L647.00 125.62 L648.00 125.72 L649.00 125.66 L650.00 125.75 L651.00 125.52 L652.00 125.64 L653.00 125.46 L654.00 125.44 L655.00 125.46 L656.00 125.67 L657.00 125.62 L658.00 125.44 L659.00 125.73 L660.00 125.70 L661.00 125.58 L662.00 125.58 L663.00 125.60 L664.00 125.48 L665.00 125.84 L666.00 125.55 L667.00 125.58" stroke="#ececec" stroke-width="0.9" fill="none"/>
<path d="M497.00 121.58 L500.00 121.65 L503.00 121.62 L506.00 121.57 L509.00 121.63 L512.00 121.53 L515.00 121.63 L518.00 121.57 L521.00 121.63 L524.00 121.62 L527.00 121.56 L530.00 121.63 L533.00 121.62 L536.00 121.57 L539.00 121.70 L542.00 121.64 L545.00 121.54 L548.00 121.55 L551.00 121.62 L554.00 121.62 L557.00 121.56 L560.00 121.66 L563.00 121.60 L566.00 121.56 L569.00 121.58 L572.00 121.59 L575.00 121.52 L578.00 121.56 L581.00 121.51 L584.00 121.59 L587.00 121.63 L590.00 121.54 L593.00 121.62 L596.00 121.54 L599.00 121.59 L602.00 121.57 L605.00 121.54 L608.00 121.57 L611.00 121.54 L614.00 121.61 L617.00 121.60 L620.00 121.66 L623.00 121.53 L626.00 121.65 L629.00 121.60 L632.00 121.62 L635.00 121.59 L638.00 121.68 L641.00 121.67 L644.00 121.65 L647.00 121.61 L650.00 121.48 L653.00 121.63 L656.00 121.60 L659.00 121.59 L662.00 121.62 L665.00 121.66 L668.00 121.61" stroke="#8a8a8a" stroke-width="0.8" fill="none"/>
<path d="M497.00 121.30 L498.00 121.40 L499.00 121.43 L500.00 121.43 L501.00 121.50 L502.00 121.32 L503.00 121.39 L504.00 121.32 L505.00 121.24 L506.00 121.29 L507.00 121.36 L508.00 121.28 L509.00 121.33 L510.00 121.44 L511.00 121.40 L512.00 121.40 L513.00 121.38 L514.00 121.34 L515.00 121.20 L516.00 121.43 L517.00 121.23 L518.00 121.37 L519.00 121.34 L520.00 121.36 L521.00 121.37 L522.00 121.32 L523.00 121.42 L524.00 121.25 L525.00 121.41 L526.00 121.21 L527.00 121.44 L528.00 121.31 L529.00 121.38 L530.00 121.47 L531.00 121.18 L532.00 121.32 L533.00 121.40 L534.00 121.42 L535.00 121.46 L536.00 121.40 L537.00 121.39 L538.00 121.36 L539.00 121.37 L540.00 121.36 L541.00 121.43 L542.00 121.36 L543.00 121.40 L544.00 121.48 L545.00 121.44 L546.00 121.32 L547.00 121.34 L548.00 121.41 L549.00 121.30 L550.00 121.20 L551.00 121.27 L552.00 121.39 L553.00 121.33 L554.00 121.32 L555.00 121.41 L556.00 121.27 L557.00 121.53 L558.00 121.35 L559.00 121.32 L560.00 121.51 L561.00 121.26 L562.00 121.31 L563.00 121.34 L564.00 121.27 L565.00 121.32 L566.00 121.40 L567.00 121.36 L568.00 121.35 L569.00 121.43 L570.00 121.50 L571.00 121.48 L572.00 121.18 L573.00 121.46 L574.00 121.41 L575.00 121.38 L576.00 121.27 L577.00 121.31 L578.00 121.33 L579.00 121.24 L580.00 121.45 L581.00 121.42 L582.00 121.35 L583.00 121.27 L584.00 121.46 L585.00 121.40 L586.00 121.44 L587.00 121.32 L588.00 121.54 L589.00 121.34 L590.00 121.51 L591.00 121.19 L592.00 121.37 L593.00 121.36 L594.00 121.15 L595.00 121.30 L596.00 121.25 L597.00 121.24 L598.00 121.29 L599.00 121.26 L600.00 121.38 L601.00 121.39 L602.00 121.37 L603.00 121.28 L604.00 121.31 L605.00 121.48 L606.00 121.32 L607.00 121.35 L608.00 121.30 L609.00 121.39 L610.00 121.42 L611.00 121.41 L612.00 121.38 L613.00 121.41 L614.00 121.33 L615.00 121.40 L616.00 121.27 L617.00 121.36 L618.00 121.42 L619.00 121.27 L620.00 121.41 L621.00 121.38 L622.00 121.25 L623.00 121.21 L624.00 121.22 L625.00 121.27 L626.00 121.38 L627.00 121.37 L628.00 121.45 L629.00 121.53 L630.00 121.31 L631.00 121.19 L632.00 121.23 L633.00 121.19 L634.00 121.29 L635.00 121.31 L636.00 121.45 L637.00 121.23 L638.00 121.33 L639.00 121.33 L640.00 121.34 L641.00 121.30 L642.00 121.52 L643.00 121.33 L644.00 121.35 L645.00 121.41 L646.00 121.37 L647.00 121.49 L648.00 121.25 L649.00 121.33 L650.00 121.31 L651.00 121.34 L652.00 121.42 L653.00 121.30 L654.00 121.19 L655.00 121.36 L656.00 121.27 L657.00 121.40 L658.00 121.37 L659.00 121.52 L660.00 121.39 L661.00 121.28 L662.00 121.38 L663.00 121.44 L664.00 121.36 L665.00 121.35 L666.00 121.33 L667.00 121.32 L668.00 121.28" stroke="#666" stroke-width="0.7" fill="none" stroke-dasharray="4 1.5"/>
<path d="M497.00 121.94 L498.00 121.88 L499.00 121.81 L500.00 121.75 L501.00 121.70 L502.00 121.85 L503.00 121.79 L504.00 121.78 L505.00 121.83 L506.00 121.85 L507.00 121.67 L508.00 121.92 L509.00 121.69 L510.00 122.00 L511.00 121.90 L512.00 121.81 L513.00 121.96 L514.00 121.85 L515.00 121.91 L516.00 121.86 L517.00 121.94 L518.00 121.93 L519.00 121.78 L520.00 121.80 L521.00 121.88 L522.00 121.83 L523.00 121.67 L524.00 122.01 L525.00 121.68 L526.00 121.68 L527.00 121.75 L528.00 121.90 L529.00 121.99 L530.00 121.83 L531.00 121.82 L532.00 121.86 L533.00 121.82 L534.00 121.86 L535.00 121.76 L536.00 121.89 L537.00 121.88 L538.00 121.66 L539.00 121.84 L540.00 121.86 L541.00 121.89 L542.00 121.78 L543.00 121.74 L544.00 121.77 L545.00 121.89 L546.00 121.78 L547.00 121.79 L548.00 121.94 L549.00 121.79 L550.00 121.78 L551.00 121.84 L552.00 121.87 L553.00 121.93 L554.00 121.78 L555.00 121.72 L556.00 121.84 L557.00 121.90 L558.00 121.73 L559.00 121.81 L560.00 121.87 L561.00 121.87 L562.00 121.86 L563.00 121.83 L564.00 121.79 L565.00 121.78 L566.00 121.94 L567.00 121.76 L568.00 121.95 L569.00 121.74 L570.00 122.08 L571.00 121.71 L572.00 121.98 L573.00 121.78 L574.00 121.84 L575.00 121.84 L576.00 121.80 L577.00 122.03 L578.00 121.86 L579.00 121.74 L580.00 121.90 L581.00 121.91 L582.00 121.76 L583.00 121.89 L584.00 121.86 L585.00 121.92 L586.00 121.91 L587.00 121.85 L588.00 121.82 L589.00 121.92 L590.00 121.88 L591.00 121.73 L592.00 121.81 L593.00 121.81 L594.00 121.83 L595.00 122.03 L596.00 121.82 L597.00 121.89 L598.00 121.98 L599.00 121.89 L600.00 121.88 L601.00 121.95 L602.00 121.87 L603.00 121.86 L604.00 121.91 L605.00 121.88 L606.00 121.80 L607.00 121.76 L608.00 121.84 L609.00 121.96 L610.00 121.83 L611.00 121.94 L612.00 121.88 L613.00 121.83 L614.00 121.64 L615.00 121.87 L616.00 121.83 L617.00 121.72 L618.00 121.89 L619.00 121.85 L620.00 121.88 L621.00 121.80 L622.00 121.87 L623.00 121.81 L624.00 121.94 L625.00 121.86 L626.00 121.74 L627.00 121.87 L628.00 121.86 L629.00 121.83 L630.00 121.74 L631.00 121.93 L632.00 121.79 L633.00 121.98 L634.00 121.80 L635.00 121.85 L636.00 121.85 L637.00 121.86 L638.00 122.06 L639.00 121.81 L640.00 122.02 L641.00 121.90 L642.00 121.79 L643.00 121.95 L644.00 121.92 L645.00 121.93 L646.00 121.74 L647.00 121.89 L648.00 121.82 L649.00 121.84 L650.00 121.84 L651.00 121.85 L652.00 121.98 L653.00 121.88 L654.00 121.70 L655.00 121.95 L656.00 121.86 L657.00 121.86 L658.00 121.70 L659.00 121.88 L660.00 121.81 L661.00 121.93 L662.00 121.89 L663.00 121.92 L664.00 121.82 L665.00 121.70 L666.00 121.93 L667.00 121.88 L668.00 121.82" stroke="#555" stroke-width="0.7" fill="none" stroke-dasharray="3 1.2"/>
<path d="M497.00 121.56 L498.00 121.49 L499.00 121.67 L500.00 121.49 L501.00 121.80 L502.00 121.69 L503.00 121.56 L504.00 121.66 L505.00 121.76 L506.00 121.88 L507.00 121.51 L508.00 121.71 L509.00 121.65 L510.00 121.57 L511.00 121.71 L512.00 121.65 L513.00 121.71 L514.00 121.55 L515.00 121.60 L516.00 121.64 L517.00 121.60 L518.00 121.60 L519.00 121.52 L520.00 121.61 L521.00 121.62 L522.00 121.59 L523.00 121.60 L524.00 121.67 L525.00 121.53 L526.00 121.67 L527.00 121.58 L528.00 121.61 L529.00 121.58 L530.00 121.69 L531.00 121.68 L532.00 121.60 L533.00 121.56 L534.00 121.79 L535.00 121.65 L536.00 121.49 L537.00 121.60 L538.00 121.59 L539.00 121.67 L540.00 121.58 L541.00 121.53 L542.00 121.73 L543.00 121.40 L544.00 121.46 L545.00 121.55 L546.00 121.55 L547.00 121.59 L548.00 121.60 L549.00 121.70 L550.00 121.45 L551.00 121.90 L552.00 121.66 L553.00 121.52 L554.00 121.54 L555.00 121.55 L556.00 121.38 L557.00 121.64 L558.00 121.49 L559.00 121.55 L560.00 121.49 L561.00 121.54 L562.00 121.60 L563.00 121.47 L564.00 121.75 L565.00 121.47 L566.00 121.55 L567.00 121.60 L568.00 121.66 L569.00 121.62 L570.00 121.60 L571.00 121.65" stroke="#333" stroke-width="0.8" fill="none" stroke-dasharray="2.5 1"/>
<path d="M497.30 60.36 L497.80 60.43 L498.30 60.55 L498.80 60.66 L499.30 60.76 L499.80 60.86 L500.31 60.94 L500.81 61.01 L501.31 61.08 L501.81 61.13 L502.31 61.18 L502.81 61.21 L503.31 61.24 L503.81 61.27 L504.31 61.28 L504.81 61.29 L505.31 61.29 L505.81 61.28 L506.32 61.26 L506.82 61.24 L507.32 61.21 L507.82 61.18 L508.32 61.14 L508.82 61.10 L509.32 61.04 L509.82 60.99 L510.32 60.93 L510.82 60.86 L511.32 60.79 L511.83 60.72 L512.33 60.64 L512.83 60.55 L513.33 60.47 L513.83 60.37 L514.33 60.28 L514.83 60.18 L515.33 60.08 L515.83 59.98 L516.33 59.87 L516.83 59.76 L517.34 59.65 L517.84 59.53 L518.34 59.42 L518.84 59.30 L519.34 59.17 L519.84 59.05 L520.34 58.92 L520.84 58.79 L521.34 58.65 L521.84 58.52 L522.34 58.38 L522.84 58.24 L523.35 58.09 L523.85 57.94 L524.35 57.79 L524.85 57.64 L525.35 57.48 L525.85 57.31 L526.35 57.14 L526.85 56.97 L527.35 56.79 L527.85 56.60 L528.35 56.41 L528.86 56.21 L529.36 56.00 L529.86 55.79 L530.36 55.57 L530.86 55.33 L531.36 55.09 L531.86 54.84 L532.36 54.58 L532.86 54.31 L533.36 54.02 L533.86 53.72 L534.36 53.41 L534.87 53.08 L535.37 52.73 L535.87 52.37 L536.37 51.99 L536.87 51.59 L537.37 51.16 L537.87 50.72 L538.37 50.26 L538.87 49.77 L539.37 49.26 L539.87 48.73 L540.38 48.18 L540.88 47.61 L541.38 47.01 L541.88 46.39 L542.38 45.75 L542.88 45.10 L543.38 44.42 L543.88 43.72 L544.38 43.01 L544.88 42.28 L545.38 41.53 L545.89 40.78 L546.39 40.01 L546.89 39.23 L547.39 38.45 L547.89 37.66 L548.39 36.87 L548.89 36.09 L549.39 35.30 L549.89 34.53 L550.39 33.77 L550.89 33.03 L551.39 32.31 L551.90 31.61 L552.40 30.95 L552.90 30.32 L553.40 29.72 L553.90 29.17 L554.40 28.66 L554.90 28.21 L555.40 27.80 L555.90 27.46 L556.40 27.17 L556.90 26.95 L557.41 26.79 L557.91 26.70 L558.41 26.68 L558.91 26.73 L559.41 26.86 L559.91 27.07 L560.41 27.36 L560.91 27.73 L561.41 28.18 L561.91 28.73 L562.41 29.37 L562.91 30.11 L563.42 30.92 L563.92 31.82 L564.42 32.78 L564.92 33.81 L565.42 34.89 L565.92 36.02 L566.42 37.19 L566.92 38.38 L567.42 39.61 L567.92 40.89 L568.42 42.21 L568.93 43.60 L569.43 45.04 L569.93 46.53 L570.43 48.05 L570.93 49.60 L571.43 51.17 L571.93 52.74 L572.43 54.32 L572.93 55.88 L573.43 57.43 L573.93 58.94 L574.44 60.42 L574.94 61.85 L575.44 63.26 L575.94 64.64 L576.44 66.01 L576.94 67.39 L577.44 68.79 L577.94 70.21 L578.44 71.65 L578.94 73.11 L579.44 74.57 L579.94 76.02 L580.45 77.44 L580.95 78.83 L581.45 80.16 L581.95 81.44 L582.45 82.66 L582.95 83.83 L583.45 84.95 L583.95 86.02 L584.45 87.04 L584.95 88.02 L585.45 88.95 L585.96 89.84 L586.46 90.68 L586.96 91.49 L587.46 92.27 L587.96 93.01 L588.46 93.72 L588.96 94.40 L589.46 95.05 L589.96 95.68 L590.46 96.29 L590.96 96.87 L591.46 97.43 L591.97 97.98 L592.47 98.50 L592.97 99.00 L593.47 99.49 L593.97 99.96 L594.47 100.41 L594.97 100.85 L595.47 101.28 L595.97 101.69 L596.47 102.09 L596.97 102.48 L597.48 102.86 L597.98 103.23 L598.48 103.59 L598.98 103.94 L599.48 104.28 L599.98 104.61 L600.48 104.93 L600.98 105.25 L601.48 105.55 L601.98 105.85 L602.48 106.15 L602.99 106.43 L603.49 106.71 L603.99 106.99 L604.49 107.25 L604.99 107.52 L605.49 107.77 L605.99 108.02 L606.49 108.26 L606.99 108.50 L607.49 108.73 L607.99 108.96 L608.49 109.18 L609.00 109.40 L609.50 109.61 L610.00 109.82 L610.50 110.02 L611.00 110.22 L611.50 110.41 L612.00 110.60 L612.50 110.78 L613.00 110.96 L613.50 111.13 L614.00 111.31 L614.51 111.47 L615.01 111.63 L615.51 111.79 L616.01 111.95 L616.51 112.10 L617.01 112.25 L617.51 112.39 L618.01 112.53 L618.51 112.67 L619.01 112.80 L619.51 112.93 L620.01 113.06 L620.52 113.18 L621.02 113.30 L621.52 113.42 L622.02 113.53 L622.52 113.64 L623.02 113.75 L623.52 113.86 L624.02 113.96 L624.52 114.06 L625.02 114.16 L625.52 114.26 L626.03 114.35 L626.53 114.45 L627.03 114.54 L627.53 114.62 L628.03 114.71 L628.53 114.79 L629.03 114.87 L629.53 114.95 L630.03 115.03 L630.53 115.11 L631.03 115.18 L631.54 115.26 L632.04 115.33 L632.54 115.40 L633.04 115.47 L633.54 115.54 L634.04 115.60 L634.54 115.67 L635.04 115.73 L635.54 115.79 L636.04 115.85 L636.54 115.91 L637.04 115.97 L637.55 116.03 L638.05 116.09 L638.55 116.14 L639.05 116.20 L639.55 116.25 L640.05 116.30 L640.55 116.36 L641.05 116.41 L641.55 116.46 L642.05 116.51 L642.55 116.56 L643.06 116.61 L643.56 116.66 L644.06 116.70 L644.56 116.75 L645.06 116.80 L645.56 116.84 L646.06 116.89 L646.56 116.93 L647.06 116.98 L647.56 117.02 L648.06 117.07 L648.56 117.11 L649.07 117.15 L649.57 117.19 L650.07 117.24 L650.57 117.28 L651.07 117.32 L651.57 117.36 L652.07 117.40 L652.57 117.44 L653.07 117.48 L653.57 117.52 L654.07 117.56 L654.58 117.60 L655.08 117.64 L655.58 117.68 L656.08 117.72 L656.58 117.76 L657.08 117.80 L657.58 117.83 L658.08 117.87 L658.58 117.91 L659.08 117.95 L659.58 117.99 L660.09 118.02 L660.59 118.06 L661.09 118.10 L661.59 118.13 L662.09 118.17 L662.59 118.21 L663.09 118.25 L663.59 118.28 L664.09 118.32 L664.59 118.35 L665.09 118.39 L665.59 118.43 L666.10 118.46 L666.60 118.50 L667.10 118.53 L667.60 118.57 L668.10 118.61 L668.60 118.64" stroke="#5e5e5e" stroke-width="1.0" fill="none"/>
<rect x="497" y="7.5" width="171.9" height="123.608" fill="none" stroke="#aaaaaa" stroke-width="1.25"/>
<line x1="495" y1="121.6" x2="497" y2="121.6" stroke="#aaaaaa" stroke-width="0.9"/>
<line x1="495" y1="102.583" x2="497" y2="102.583" stroke="#aaaaaa" stroke-width="0.9"/>
<line x1="495" y1="83.567" x2="497" y2="83.567" stroke="#aaaaaa" stroke-width="0.9"/>
<line x1="495" y1="64.55" x2="497" y2="64.55" stroke="#aaaaaa" stroke-width="0.9"/>
<line x1="495" y1="45.533" x2="497" y2="45.533" stroke="#aaaaaa" stroke-width="0.9"/>
<line x1="495" y1="26.517" x2="497" y2="26.517" stroke="#aaaaaa" stroke-width="0.9"/>
<line x1="495" y1="7.5" x2="497" y2="7.5" stroke="#aaaaaa" stroke-width="0.9"/>
<line x1="497" y1="131.108" x2="497" y2="133.108" stroke="#aaaaaa" stroke-width="0.9"/>
<line x1="525.65" y1="131.108" x2="525.65" y2="133.108" stroke="#aaaaaa" stroke-width="0.9"/>
<line x1="554.3" y1="131.108" x2="554.3" y2="133.108" stroke="#aaaaaa" stroke-width="0.9"/>
<line x1="582.95" y1="131.108" x2="582.95" y2="133.108" stroke="#aaaaaa" stroke-width="0.9"/>
<line x1="611.6" y1="131.108" x2="611.6" y2="133.108" stroke="#aaaaaa" stroke-width="0.9"/>
<line x1="640.25" y1="131.108" x2="640.25" y2="133.108" stroke="#aaaaaa" stroke-width="0.9"/>
<line x1="668.9" y1="131.108" x2="668.9" y2="133.108" stroke="#aaaaaa" stroke-width="0.9"/>
<line x1="635.8" y1="34.2" x2="653" y2="34.2" stroke="#7c7c7c" stroke-width="1.1"/>
<line x1="635.8" y1="40.3" x2="653" y2="40.3" stroke="#8a8a8a" stroke-width="1.1" stroke-dasharray="6.5 2.3"/>
<line x1="635.8" y1="46.3" x2="653" y2="46.3" stroke="#7c7c7c" stroke-width="1.1" stroke-dasharray="4.8 1.6"/>
<line x1="635.8" y1="52.4" x2="653" y2="52.4" stroke="#8a8a8a" stroke-width="1.0" stroke-dasharray="3.2 1.3"/>
<line x1="635.8" y1="58.5" x2="653" y2="58.5" stroke="#dddddd" stroke-width="1.0"/>
<line x1="635.8" y1="64.6" x2="653" y2="64.6" stroke="#9a9a9a" stroke-width="1.0" stroke-dasharray="4.5 2.5"/>
<rect x="502.2" y="102.1" width="59.6" height="11.9" fill="#7fb9bc"/>
<rect x="502.55" y="102.45" width="58.9" height="11.2" fill="none" stroke="#6a9996" stroke-width="0.7" opacity="0.8"/>
<rect x="510.714" y="103.1" width="0.8" height="9.9" fill="#5c9a96" opacity="0.22"/>
<rect x="519.229" y="103.1" width="0.8" height="9.9" fill="#5c9a96" opacity="0.22"/>
<rect x="527.743" y="103.1" width="0.8" height="9.9" fill="#5c9a96" opacity="0.22"/>
<rect x="536.257" y="103.1" width="0.8" height="9.9" fill="#5c9a96" opacity="0.22"/>
<rect x="544.771" y="103.1" width="0.8" height="9.9" fill="#5c9a96" opacity="0.22"/>
<rect x="553.286" y="103.1" width="0.8" height="9.9" fill="#5c9a96" opacity="0.22"/>
<rect x="512.843" y="104.1" width="4.257" height="7.9" fill="#ffffff" opacity="0.1"/>
<rect x="521.357" y="104.1" width="4.257" height="7.9" fill="#ffffff" opacity="0.1"/>
<rect x="529.871" y="104.1" width="4.257" height="7.9" fill="#ffffff" opacity="0.1"/>
<rect x="538.386" y="104.1" width="4.257" height="7.9" fill="#ffffff" opacity="0.1"/>
<rect x="546.9" y="104.1" width="4.257" height="7.9" fill="#ffffff" opacity="0.1"/>
<rect x="555.414" y="104.1" width="4.257" height="7.9" fill="#ffffff" opacity="0.1"/>
<rect x="502.7" y="106.2" width="9.5" height="6.4" fill="#b5cfcc" opacity="0.7"/>
<rect x="503.5" y="107.8" width="7.9" height="3.2" rx="1.2" fill="#8c1c18"/>
<path d="M43.30 298.56 L44.30 298.58 L45.30 298.57 L46.30 298.64 L47.30 298.84 L48.30 298.54 L49.30 298.79 L50.30 298.83 L51.30 298.66 L52.30 298.63 L53.30 298.75 L54.30 298.82 L55.30 298.92 L56.30 298.79 L57.30 298.86 L58.30 298.65 L59.30 298.61 L60.30 298.53 L61.30 298.58 L62.30 298.66 L63.30 298.72 L64.30 298.57 L65.30 298.78 L66.30 298.69 L67.30 298.64 L68.30 298.62 L69.30 298.90 L70.30 298.72 L71.30 298.61 L72.30 298.60 L73.30 298.88 L74.30 298.64 L75.30 298.82 L76.30 298.84 L77.30 298.47 L78.30 298.84 L79.30 298.68 L80.30 298.59 L81.30 298.65 L82.30 298.76 L83.30 298.74 L84.30 298.74 L85.30 298.63 L86.30 298.83 L87.30 298.85 L88.30 298.88 L89.30 298.80 L90.30 298.89 L91.30 298.91 L92.30 298.77 L93.30 298.79 L94.30 298.76 L95.30 298.76 L96.30 298.79 L97.30 298.53 L98.30 298.67 L99.30 298.75 L100.30 298.49 L101.30 298.56 L102.30 298.86 L103.30 298.59 L104.30 298.65 L105.30 298.74 L106.30 298.65 L107.30 298.61 L108.30 298.65 L109.30 298.66 L110.30 298.64 L111.30 298.72 L112.30 298.86 L113.30 298.74 L114.30 298.86 L115.30 298.77 L116.30 298.78 L117.30 298.76 L118.30 298.67 L119.30 298.74 L120.30 298.73 L121.30 298.59 L122.30 298.77 L123.30 298.76 L124.30 298.74 L125.30 298.64 L126.30 298.44 L127.30 298.85 L128.30 298.69 L129.30 298.48 L130.30 298.76 L131.30 298.63 L132.30 298.77 L133.30 298.69 L134.30 298.81 L135.30 298.72 L136.30 298.73 L137.30 298.71 L138.30 298.82 L139.30 298.57 L140.30 298.82 L141.30 298.77 L142.30 298.64 L143.30 298.70 L144.30 298.66 L145.30 298.71 L146.30 298.79 L147.30 298.63 L148.30 298.77 L149.30 298.79 L150.30 298.76 L151.30 298.86 L152.30 298.69 L153.30 298.77 L154.30 298.95 L155.30 298.70 L156.30 298.69 L157.30 298.70 L158.30 298.76 L159.30 298.64 L160.30 298.68 L161.30 298.52 L162.30 298.60 L163.30 298.60 L164.30 298.58 L165.30 298.66 L166.30 298.77 L167.30 298.66 L168.30 298.57 L169.30 298.72 L170.30 298.72 L171.30 298.56 L172.30 298.71 L173.30 298.59 L174.30 298.64 L175.30 298.63 L176.30 298.78 L177.30 298.62 L178.30 298.67 L179.30 298.72 L180.30 298.80 L181.30 298.82 L182.30 298.60 L183.30 298.82 L184.30 298.73 L185.30 298.82 L186.30 298.81 L187.30 298.65 L188.30 298.70 L189.30 298.67 L190.30 298.74 L191.30 298.87 L192.30 298.71 L193.30 298.63 L194.30 298.95 L195.30 298.60 L196.30 298.70 L197.30 298.70 L198.30 298.57 L199.30 298.78 L200.30 298.81 L201.30 298.69 L202.30 298.71 L203.30 298.68 L204.30 298.52 L205.30 298.72 L206.30 298.58 L207.30 298.60 L208.30 298.74 L209.30 298.79 L210.30 298.61 L211.30 298.81 L212.30 298.88" stroke="#ececec" stroke-width="0.9" fill="none"/>
<path d="M42.30 294.60 L45.30 294.55 L48.30 294.76 L51.30 294.78 L54.30 294.77 L57.30 294.68 L60.30 294.70 L63.30 294.69 L66.30 294.77 L69.30 294.74 L72.30 294.70 L75.30 294.74 L78.30 294.77 L81.30 294.72 L84.30 294.65 L87.30 294.70 L90.30 294.68 L93.30 294.62 L96.30 294.60 L99.30 294.71 L102.30 294.65 L105.30 294.72 L108.30 294.66 L111.30 294.74 L114.30 294.74 L117.30 294.72 L120.30 294.64 L123.30 294.60 L126.30 294.81 L129.30 294.70 L132.30 294.80 L135.30 294.69 L138.30 294.64 L141.30 294.70 L144.30 294.64 L147.30 294.70 L150.30 294.78 L153.30 294.75 L156.30 294.86 L159.30 294.72 L162.30 294.72 L165.30 294.65 L168.30 294.65 L171.30 294.71 L174.30 294.66 L177.30 294.68 L180.30 294.68 L183.30 294.64 L186.30 294.82 L189.30 294.60 L192.30 294.71 L195.30 294.75 L198.30 294.76 L201.30 294.68 L204.30 294.65 L207.30 294.82 L210.30 294.81 L213.30 294.71" stroke="#8a8a8a" stroke-width="0.8" fill="none"/>
<path d="M42.30 294.49 L43.30 294.47 L44.30 294.45 L45.30 294.26 L46.30 294.48 L47.30 294.28 L48.30 294.52 L49.30 294.50 L50.30 294.52 L51.30 294.52 L52.30 294.47 L53.30 294.41 L54.30 294.43 L55.30 294.57 L56.30 294.40 L57.30 294.43 L58.30 294.39 L59.30 294.41 L60.30 294.43 L61.30 294.47 L62.30 294.43 L63.30 294.42 L64.30 294.40 L65.30 294.46 L66.30 294.34 L67.30 294.45 L68.30 294.55 L69.30 294.39 L70.30 294.45 L71.30 294.68 L72.30 294.37 L73.30 294.32 L74.30 294.42 L75.30 294.59 L76.30 294.61 L77.30 294.35 L78.30 294.50 L79.30 294.45 L80.30 294.40 L81.30 294.29 L82.30 294.53 L83.30 294.38 L84.30 294.47 L85.30 294.46 L86.30 294.60 L87.30 294.54 L88.30 294.36 L89.30 294.43 L90.30 294.53 L91.30 294.34 L92.30 294.42 L93.30 294.47 L94.30 294.32 L95.30 294.35 L96.30 294.31 L97.30 294.47 L98.30 294.41 L99.30 294.52 L100.30 294.46 L101.30 294.50 L102.30 294.44 L103.30 294.51 L104.30 294.44 L105.30 294.37 L106.30 294.54 L107.30 294.53 L108.30 294.63 L109.30 294.44 L110.30 294.40 L111.30 294.33 L112.30 294.14 L113.30 294.35 L114.30 294.49 L115.30 294.38 L116.30 294.24 L117.30 294.50 L118.30 294.40 L119.30 294.42 L120.30 294.42 L121.30 294.44 L122.30 294.49 L123.30 294.31 L124.30 294.43 L125.30 294.41 L126.30 294.54 L127.30 294.37 L128.30 294.58 L129.30 294.50 L130.30 294.58 L131.30 294.39 L132.30 294.51 L133.30 294.48 L134.30 294.33 L135.30 294.43 L136.30 294.41 L137.30 294.37 L138.30 294.39 L139.30 294.33 L140.30 294.41 L141.30 294.48 L142.30 294.39 L143.30 294.32 L144.30 294.53 L145.30 294.42 L146.30 294.45 L147.30 294.43 L148.30 294.41 L149.30 294.50 L150.30 294.41 L151.30 294.45 L152.30 294.33 L153.30 294.32 L154.30 294.42 L155.30 294.60 L156.30 294.46 L157.30 294.60 L158.30 294.49 L159.30 294.49 L160.30 294.40 L161.30 294.45 L162.30 294.59 L163.30 294.54 L164.30 294.40 L165.30 294.41 L166.30 294.56 L167.30 294.41 L168.30 294.52 L169.30 294.38 L170.30 294.50 L171.30 294.57 L172.30 294.52 L173.30 294.47 L174.30 294.46 L175.30 294.44 L176.30 294.45 L177.30 294.54 L178.30 294.54 L179.30 294.48 L180.30 294.35 L181.30 294.41 L182.30 294.47 L183.30 294.45 L184.30 294.34 L185.30 294.50 L186.30 294.66 L187.30 294.35 L188.30 294.46 L189.30 294.58 L190.30 294.42 L191.30 294.42 L192.30 294.46 L193.30 294.50 L194.30 294.42 L195.30 294.53 L196.30 294.30 L197.30 294.50 L198.30 294.48 L199.30 294.44 L200.30 294.48 L201.30 294.45 L202.30 294.56 L203.30 294.41 L204.30 294.45 L205.30 294.34 L206.30 294.36 L207.30 294.43 L208.30 294.33 L209.30 294.38 L210.30 294.34 L211.30 294.41 L212.30 294.46 L213.30 294.53" stroke="#666" stroke-width="0.7" fill="none" stroke-dasharray="4 1.5"/>
<path d="M42.30 295.06 L43.30 294.98 L44.30 294.86 L45.30 294.94 L46.30 294.92 L47.30 294.93 L48.30 295.00 L49.30 294.85 L50.30 295.03 L51.30 294.86 L52.30 294.93 L53.30 295.02 L54.30 295.00 L55.30 294.89 L56.30 295.09 L57.30 294.98 L58.30 294.87 L59.30 294.95 L60.30 294.88 L61.30 294.98 L62.30 294.84 L63.30 294.99 L64.30 294.81 L65.30 295.04 L66.30 294.97 L67.30 295.06 L68.30 294.89 L69.30 294.78 L70.30 294.84 L71.30 294.93 L72.30 295.11 L73.30 295.00 L74.30 295.05 L75.30 294.88 L76.30 294.91 L77.30 294.92 L78.30 295.04 L79.30 294.90 L80.30 294.93 L81.30 295.08 L82.30 294.88 L83.30 294.95 L84.30 294.84 L85.30 294.93 L86.30 295.02 L87.30 295.05 L88.30 294.84 L89.30 294.75 L90.30 294.99 L91.30 295.08 L92.30 294.89 L93.30 294.97 L94.30 294.95 L95.30 294.78 L96.30 294.74 L97.30 294.94 L98.30 294.99 L99.30 294.83 L100.30 294.92 L101.30 294.89 L102.30 294.87 L103.30 294.85 L104.30 295.04 L105.30 294.95 L106.30 294.93 L107.30 294.91 L108.30 294.98 L109.30 294.91 L110.30 294.96 L111.30 294.89 L112.30 294.98 L113.30 294.92 L114.30 294.99 L115.30 294.82 L116.30 294.88 L117.30 294.85 L118.30 295.07 L119.30 294.90 L120.30 294.94 L121.30 294.81 L122.30 294.87 L123.30 294.81 L124.30 294.93 L125.30 294.87 L126.30 295.07 L127.30 294.87 L128.30 295.02 L129.30 294.93 L130.30 294.98 L131.30 294.87 L132.30 294.94 L133.30 294.93 L134.30 294.88 L135.30 294.99 L136.30 294.82 L137.30 294.93 L138.30 294.93 L139.30 294.95 L140.30 294.85 L141.30 294.99 L142.30 294.87 L143.30 294.89 L144.30 294.86 L145.30 294.91 L146.30 294.97 L147.30 295.17 L148.30 294.73 L149.30 295.02 L150.30 295.01 L151.30 295.06 L152.30 294.96 L153.30 294.98 L154.30 295.09 L155.30 294.95 L156.30 294.96 L157.30 294.94 L158.30 294.98 L159.30 295.09 L160.30 294.87 L161.30 295.04 L162.30 294.76 L163.30 294.98 L164.30 294.91 L165.30 295.05 L166.30 295.01 L167.30 295.01 L168.30 294.99 L169.30 294.97 L170.30 294.78 L171.30 294.97 L172.30 294.84 L173.30 295.03 L174.30 294.89 L175.30 294.94 L176.30 294.90 L177.30 294.95 L178.30 294.96 L179.30 294.98 L180.30 294.84 L181.30 295.07 L182.30 294.86 L183.30 294.93 L184.30 294.73 L185.30 294.96 L186.30 295.02 L187.30 295.04 L188.30 294.98 L189.30 294.98 L190.30 294.89 L191.30 294.91 L192.30 294.92 L193.30 294.95 L194.30 294.85 L195.30 294.91 L196.30 294.98 L197.30 294.95 L198.30 294.93 L199.30 294.88 L200.30 294.96 L201.30 294.96 L202.30 295.06 L203.30 294.94 L204.30 295.02 L205.30 294.84 L206.30 295.08 L207.30 294.83 L208.30 294.93 L209.30 294.91 L210.30 294.89 L211.30 294.91 L212.30 294.89 L213.30 294.95" stroke="#555" stroke-width="0.7" fill="none" stroke-dasharray="3 1.2"/>
<path d="M42.30 294.74 L43.30 294.70 L44.30 294.65 L45.30 294.47 L46.30 294.70 L47.30 294.79 L48.30 294.80 L49.30 294.65 L50.30 294.92 L51.30 294.89 L52.30 294.68 L53.30 294.68 L54.30 294.80 L55.30 294.67 L56.30 294.72 L57.30 294.82 L58.30 294.82 L59.30 294.65 L60.30 294.65 L61.30 294.65 L62.30 294.70 L63.30 294.71 L64.30 294.66 L65.30 294.78 L66.30 294.70 L67.30 294.70 L68.30 294.50 L69.30 294.56 L70.30 294.63 L71.30 294.74 L72.30 294.61 L73.30 294.86 L74.30 294.71 L75.30 294.73 L76.30 294.71 L77.30 294.75 L78.30 294.79 L79.30 294.64 L80.30 294.86 L81.30 294.62 L82.30 294.75 L83.30 294.68 L84.30 294.68 L85.30 294.77 L86.30 294.72 L87.30 294.86 L88.30 294.65 L89.30 294.75 L90.30 294.76 L91.30 294.91 L92.30 294.86 L93.30 294.77 L94.30 294.87 L95.30 294.78 L96.30 294.62 L97.30 294.73 L98.30 294.82 L99.30 294.65 L100.30 294.85 L101.30 294.74 L102.30 294.64 L103.30 294.75 L104.30 294.54 L105.30 294.63 L106.30 294.60 L107.30 294.75 L108.30 294.60 L109.30 294.54 L110.30 294.73 L111.30 294.65 L112.30 294.63 L113.30 294.64 L114.30 294.80 L115.30 294.72 L116.30 294.62" stroke="#333" stroke-width="0.8" fill="none" stroke-dasharray="2.5 1"/>
<path d="M42.60 251.58 L43.10 251.67 L43.60 251.76 L44.10 251.84 L44.60 251.92 L45.10 252.00 L45.60 252.07 L46.10 252.14 L46.60 252.21 L47.10 252.28 L47.60 252.34 L48.10 252.40 L48.60 252.46 L49.10 252.52 L49.60 252.57 L50.10 252.62 L50.60 252.67 L51.10 252.72 L51.61 252.76 L52.11 252.81 L52.61 252.85 L53.11 252.88 L53.61 252.92 L54.11 252.95 L54.61 252.99 L55.11 253.02 L55.61 253.04 L56.11 253.07 L56.61 253.09 L57.11 253.12 L57.61 253.14 L58.11 253.16 L58.61 253.17 L59.11 253.19 L59.61 253.20 L60.11 253.21 L60.61 253.22 L61.11 253.23 L61.61 253.23 L62.11 253.24 L62.61 253.24 L63.11 253.24 L63.61 253.23 L64.11 253.23 L64.61 253.22 L65.11 253.21 L65.61 253.20 L66.11 253.19 L66.61 253.17 L67.11 253.16 L67.61 253.13 L68.11 253.11 L68.62 253.08 L69.12 253.05 L69.62 253.02 L70.12 252.98 L70.62 252.94 L71.12 252.90 L71.62 252.85 L72.12 252.79 L72.62 252.73 L73.12 252.67 L73.62 252.60 L74.12 252.52 L74.62 252.44 L75.12 252.35 L75.62 252.25 L76.12 252.15 L76.62 252.03 L77.12 251.91 L77.62 251.78 L78.12 251.64 L78.62 251.49 L79.12 251.33 L79.62 251.16 L80.12 250.98 L80.62 250.78 L81.12 250.57 L81.62 250.35 L82.12 250.11 L82.62 249.86 L83.12 249.60 L83.62 249.32 L84.12 249.02 L84.62 248.71 L85.12 248.38 L85.63 248.03 L86.13 247.67 L86.63 247.29 L87.13 246.88 L87.63 246.46 L88.13 246.02 L88.63 245.57 L89.13 245.09 L89.63 244.59 L90.13 244.07 L90.63 243.53 L91.13 242.97 L91.63 242.39 L92.13 241.79 L92.63 241.17 L93.13 240.54 L93.63 239.89 L94.13 239.24 L94.63 238.57 L95.13 237.89 L95.63 237.22 L96.13 236.54 L96.63 235.86 L97.13 235.18 L97.63 234.51 L98.13 233.84 L98.63 233.17 L99.13 232.51 L99.63 231.85 L100.13 231.19 L100.63 230.54 L101.13 229.89 L101.63 229.24 L102.13 228.59 L102.64 227.96 L103.14 227.33 L103.64 226.71 L104.14 226.12 L104.64 225.54 L105.14 225.00 L105.64 224.49 L106.14 224.03 L106.64 223.61 L107.14 223.25 L107.64 222.95 L108.14 222.71 L108.64 222.54 L109.14 222.44 L109.64 222.43 L110.14 222.50 L110.64 222.66 L111.14 222.88 L111.64 223.15 L112.14 223.45 L112.64 223.79 L113.14 224.16 L113.64 224.59 L114.14 225.05 L114.64 225.56 L115.14 226.10 L115.64 226.69 L116.14 227.30 L116.64 227.95 L117.14 228.63 L117.64 229.34 L118.14 230.07 L118.64 230.83 L119.14 231.60 L119.65 232.40 L120.15 233.21 L120.65 234.04 L121.15 234.89 L121.65 235.76 L122.15 236.65 L122.65 237.56 L123.15 238.48 L123.65 239.43 L124.15 240.39 L124.65 241.37 L125.15 242.36 L125.65 243.37 L126.15 244.39 L126.65 245.42 L127.15 246.47 L127.65 247.51 L128.15 248.57 L128.65 249.62 L129.15 250.66 L129.65 251.70 L130.15 252.72 L130.65 253.74 L131.15 254.73 L131.65 255.70 L132.15 256.66 L132.65 257.59 L133.15 258.50 L133.65 259.38 L134.15 260.25 L134.65 261.09 L135.15 261.92 L135.65 262.72 L136.15 263.51 L136.65 264.27 L137.16 265.02 L137.66 265.76 L138.16 266.47 L138.66 267.17 L139.16 267.85 L139.66 268.51 L140.16 269.16 L140.66 269.79 L141.16 270.40 L141.66 270.99 L142.16 271.57 L142.66 272.13 L143.16 272.67 L143.66 273.20 L144.16 273.71 L144.66 274.21 L145.16 274.69 L145.66 275.15 L146.16 275.60 L146.66 276.04 L147.16 276.47 L147.66 276.88 L148.16 277.28 L148.66 277.67 L149.16 278.05 L149.66 278.42 L150.16 278.78 L150.66 279.13 L151.16 279.46 L151.66 279.79 L152.16 280.12 L152.66 280.43 L153.16 280.73 L153.66 281.03 L154.17 281.32 L154.67 281.60 L155.17 281.88 L155.67 282.15 L156.17 282.41 L156.67 282.66 L157.17 282.91 L157.67 283.15 L158.17 283.39 L158.67 283.62 L159.17 283.84 L159.67 284.06 L160.17 284.28 L160.67 284.49 L161.17 284.69 L161.67 284.89 L162.17 285.08 L162.67 285.27 L163.17 285.45 L163.67 285.63 L164.17 285.81 L164.67 285.98 L165.17 286.14 L165.67 286.31 L166.17 286.46 L166.67 286.62 L167.17 286.77 L167.67 286.92 L168.17 287.06 L168.67 287.20 L169.17 287.34 L169.67 287.47 L170.17 287.60 L170.67 287.73 L171.18 287.85 L171.68 287.97 L172.18 288.09 L172.68 288.21 L173.18 288.32 L173.68 288.43 L174.18 288.54 L174.68 288.65 L175.18 288.75 L175.68 288.86 L176.18 288.96 L176.68 289.05 L177.18 289.15 L177.68 289.25 L178.18 289.34 L178.68 289.43 L179.18 289.52 L179.68 289.61 L180.18 289.69 L180.68 289.78 L181.18 289.86 L181.68 289.94 L182.18 290.02 L182.68 290.09 L183.18 290.17 L183.68 290.24 L184.18 290.32 L184.68 290.39 L185.18 290.46 L185.68 290.52 L186.18 290.59 L186.68 290.66 L187.18 290.72 L187.68 290.78 L188.19 290.84 L188.69 290.90 L189.19 290.96 L189.69 291.02 L190.19 291.07 L190.69 291.13 L191.19 291.18 L191.69 291.23 L192.19 291.28 L192.69 291.33 L193.19 291.38 L193.69 291.43 L194.19 291.48 L194.69 291.52 L195.19 291.57 L195.69 291.61 L196.19 291.65 L196.69 291.69 L197.19 291.73 L197.69 291.77 L198.19 291.81 L198.69 291.85 L199.19 291.88 L199.69 291.92 L200.19 291.95 L200.69 291.98 L201.19 292.01 L201.69 292.05 L202.19 292.07 L202.69 292.10 L203.19 292.13 L203.69 292.16 L204.19 292.18 L204.69 292.21 L205.20 292.23 L205.70 292.25 L206.20 292.28 L206.70 292.30 L207.20 292.32 L207.70 292.34 L208.20 292.35 L208.70 292.37 L209.20 292.38 L209.70 292.40 L210.20 292.41 L210.70 292.42 L211.20 292.44 L211.70 292.45 L212.20 292.45 L212.70 292.46 L213.20 292.47 L213.70 292.47" stroke="#5e5e5e" stroke-width="1.0" fill="none"/>
<rect x="42.3" y="180.3" width="171.7" height="123.933" fill="none" stroke="#aaaaaa" stroke-width="1.25"/>
<line x1="40.3" y1="294.7" x2="42.3" y2="294.7" stroke="#aaaaaa" stroke-width="0.9"/>
<line x1="40.3" y1="275.633" x2="42.3" y2="275.633" stroke="#aaaaaa" stroke-width="0.9"/>
<line x1="40.3" y1="256.567" x2="42.3" y2="256.567" stroke="#aaaaaa" stroke-width="0.9"/>
<line x1="40.3" y1="237.5" x2="42.3" y2="237.5" stroke="#aaaaaa" stroke-width="0.9"/>
<line x1="40.3" y1="218.433" x2="42.3" y2="218.433" stroke="#aaaaaa" stroke-width="0.9"/>
<line x1="40.3" y1="199.367" x2="42.3" y2="199.367" stroke="#aaaaaa" stroke-width="0.9"/>
<line x1="40.3" y1="180.3" x2="42.3" y2="180.3" stroke="#aaaaaa" stroke-width="0.9"/>
<line x1="42.3" y1="304.233" x2="42.3" y2="306.233" stroke="#aaaaaa" stroke-width="0.9"/>
<line x1="70.917" y1="304.233" x2="70.917" y2="306.233" stroke="#aaaaaa" stroke-width="0.9"/>
<line x1="99.533" y1="304.233" x2="99.533" y2="306.233" stroke="#aaaaaa" stroke-width="0.9"/>
<line x1="128.15" y1="304.233" x2="128.15" y2="306.233" stroke="#aaaaaa" stroke-width="0.9"/>
<line x1="156.767" y1="304.233" x2="156.767" y2="306.233" stroke="#aaaaaa" stroke-width="0.9"/>
<line x1="185.383" y1="304.233" x2="185.383" y2="306.233" stroke="#aaaaaa" stroke-width="0.9"/>
<line x1="214" y1="304.233" x2="214" y2="306.233" stroke="#aaaaaa" stroke-width="0.9"/>
<line x1="175.5" y1="207" x2="192.5" y2="207" stroke="#7c7c7c" stroke-width="1.1"/>
<line x1="175.5" y1="212.9" x2="192.5" y2="212.9" stroke="#8a8a8a" stroke-width="1.1" stroke-dasharray="6.5 2.3"/>
<line x1="175.5" y1="218.8" x2="192.5" y2="218.8" stroke="#7c7c7c" stroke-width="1.1" stroke-dasharray="4.8 1.6"/>
<line x1="175.5" y1="224.9" x2="192.5" y2="224.9" stroke="#8a8a8a" stroke-width="1.0" stroke-dasharray="3.2 1.3"/>
<line x1="175.5" y1="231" x2="192.5" y2="231" stroke="#dddddd" stroke-width="1.0"/>
<line x1="175.5" y1="237" x2="192.5" y2="237" stroke="#9a9a9a" stroke-width="1.0" stroke-dasharray="4.5 2.5"/>
<rect x="46.8" y="274.6" width="63.5" height="12.8" fill="#7ab8b6"/>
<rect x="47.15" y="274.95" width="62.8" height="12.1" fill="none" stroke="#6a9996" stroke-width="0.7" opacity="0.8"/>
<rect x="55.871" y="275.6" width="0.8" height="10.8" fill="#5c9a96" opacity="0.22"/>
<rect x="64.943" y="275.6" width="0.8" height="10.8" fill="#5c9a96" opacity="0.22"/>
<rect x="74.014" y="275.6" width="0.8" height="10.8" fill="#5c9a96" opacity="0.22"/>
<rect x="83.086" y="275.6" width="0.8" height="10.8" fill="#5c9a96" opacity="0.22"/>
<rect x="92.157" y="275.6" width="0.8" height="10.8" fill="#5c9a96" opacity="0.22"/>
<rect x="101.229" y="275.6" width="0.8" height="10.8" fill="#5c9a96" opacity="0.22"/>
<rect x="58.139" y="276.6" width="4.536" height="8.8" fill="#ffffff" opacity="0.1"/>
<rect x="67.211" y="276.6" width="4.536" height="8.8" fill="#ffffff" opacity="0.1"/>
<rect x="76.282" y="276.6" width="4.536" height="8.8" fill="#ffffff" opacity="0.1"/>
<rect x="85.354" y="276.6" width="4.536" height="8.8" fill="#ffffff" opacity="0.1"/>
<rect x="94.425" y="276.6" width="4.536" height="8.8" fill="#ffffff" opacity="0.1"/>
<rect x="103.496" y="276.6" width="4.536" height="8.8" fill="#ffffff" opacity="0.1"/>
<rect x="47.6" y="279" width="10" height="6.5" fill="#b5cfcc" opacity="0.7"/>
<rect x="48.4" y="280.6" width="8.4" height="3.3" rx="1.2" fill="#8c1c18"/>
<path d="M270.30 298.46 L271.30 298.50 L272.30 298.48 L273.30 298.48 L274.30 298.51 L275.30 298.48 L276.30 298.53 L277.30 298.50 L278.30 298.56 L279.30 298.43 L280.30 298.46 L281.30 298.41 L282.30 298.33 L283.30 298.28 L284.30 298.51 L285.30 298.42 L286.30 298.42 L287.30 298.44 L288.30 298.54 L289.30 298.56 L290.30 298.57 L291.30 298.59 L292.30 298.80 L293.30 298.53 L294.30 298.52 L295.30 298.28 L296.30 298.33 L297.30 298.72 L298.30 298.77 L299.30 298.54 L300.30 298.49 L301.30 298.56 L302.30 298.30 L303.30 298.45 L304.30 298.46 L305.30 298.67 L306.30 298.40 L307.30 298.54 L308.30 298.57 L309.30 298.61 L310.30 298.46 L311.30 298.43 L312.30 298.28 L313.30 298.61 L314.30 298.62 L315.30 298.45 L316.30 298.52 L317.30 298.36 L318.30 298.48 L319.30 298.57 L320.30 298.45 L321.30 298.51 L322.30 298.61 L323.30 298.56 L324.30 298.44 L325.30 298.66 L326.30 298.68 L327.30 298.60 L328.30 298.56 L329.30 298.57 L330.30 298.59 L331.30 298.37 L332.30 298.61 L333.30 298.42 L334.30 298.52 L335.30 298.49 L336.30 298.55 L337.30 298.68 L338.30 298.55 L339.30 298.49 L340.30 298.57 L341.30 298.51 L342.30 298.33 L343.30 298.32 L344.30 298.45 L345.30 298.70 L346.30 298.47 L347.30 298.57 L348.30 298.63 L349.30 298.37 L350.30 298.63 L351.30 298.59 L352.30 298.55 L353.30 298.60 L354.30 298.29 L355.30 298.52 L356.30 298.34 L357.30 298.53 L358.30 298.48 L359.30 298.46 L360.30 298.56 L361.30 298.32 L362.30 298.51 L363.30 298.72 L364.30 298.60 L365.30 298.40 L366.30 298.54 L367.30 298.48 L368.30 298.55 L369.30 298.38 L370.30 298.55 L371.30 298.50 L372.30 298.38 L373.30 298.57 L374.30 298.64 L375.30 298.62 L376.30 298.24 L377.30 298.53 L378.30 298.54 L379.30 298.48 L380.30 298.48 L381.30 298.54 L382.30 298.57 L383.30 298.43 L384.30 298.52 L385.30 298.48 L386.30 298.42 L387.30 298.54 L388.30 298.44 L389.30 298.32 L390.30 298.45 L391.30 298.32 L392.30 298.59 L393.30 298.47 L394.30 298.60 L395.30 298.30 L396.30 298.66 L397.30 298.55 L398.30 298.39 L399.30 298.71 L400.30 298.43 L401.30 298.38 L402.30 298.48 L403.30 298.54 L404.30 298.59 L405.30 298.73 L406.30 298.41 L407.30 298.32 L408.30 298.53 L409.30 298.37 L410.30 298.37 L411.30 298.49 L412.30 298.63 L413.30 298.41 L414.30 298.42 L415.30 298.48 L416.30 298.46 L417.30 298.61 L418.30 298.50 L419.30 298.37 L420.30 298.74 L421.30 298.44 L422.30 298.33 L423.30 298.56 L424.30 298.50 L425.30 298.56 L426.30 298.49 L427.30 298.50 L428.30 298.52 L429.30 298.59 L430.30 298.28 L431.30 298.51 L432.30 298.50 L433.30 298.72 L434.30 298.43 L435.30 298.63 L436.30 298.59 L437.30 298.43 L438.30 298.56 L439.30 298.59" stroke="#ececec" stroke-width="0.9" fill="none"/>
<path d="M269.30 294.52 L272.30 294.47 L275.30 294.53 L278.30 294.50 L281.30 294.42 L284.30 294.55 L287.30 294.50 L290.30 294.53 L293.30 294.59 L296.30 294.51 L299.30 294.45 L302.30 294.47 L305.30 294.55 L308.30 294.43 L311.30 294.51 L314.30 294.52 L317.30 294.44 L320.30 294.51 L323.30 294.53 L326.30 294.46 L329.30 294.48 L332.30 294.53 L335.30 294.44 L338.30 294.46 L341.30 294.55 L344.30 294.50 L347.30 294.43 L350.30 294.50 L353.30 294.60 L356.30 294.42 L359.30 294.54 L362.30 294.54 L365.30 294.49 L368.30 294.53 L371.30 294.47 L374.30 294.58 L377.30 294.59 L380.30 294.46 L383.30 294.49 L386.30 294.51 L389.30 294.47 L392.30 294.52 L395.30 294.45 L398.30 294.53 L401.30 294.48 L404.30 294.50 L407.30 294.52 L410.30 294.55 L413.30 294.45 L416.30 294.54 L419.30 294.54 L422.30 294.49 L425.30 294.58 L428.30 294.46 L431.30 294.47 L434.30 294.52 L437.30 294.47 L440.30 294.57" stroke="#8a8a8a" stroke-width="0.8" fill="none"/>
<path d="M269.30 294.38 L270.30 294.31 L271.30 294.17 L272.30 294.23 L273.30 294.23 L274.30 294.44 L275.30 294.17 L276.30 294.36 L277.30 294.26 L278.30 294.33 L279.30 294.25 L280.30 294.28 L281.30 294.29 L282.30 294.26 L283.30 294.30 L284.30 294.28 L285.30 294.35 L286.30 294.39 L287.30 294.24 L288.30 294.24 L289.30 294.28 L290.30 294.12 L291.30 294.27 L292.30 294.21 L293.30 294.18 L294.30 294.12 L295.30 294.23 L296.30 294.29 L297.30 294.21 L298.30 294.18 L299.30 294.20 L300.30 294.24 L301.30 294.16 L302.30 294.21 L303.30 294.16 L304.30 294.24 L305.30 294.39 L306.30 294.26 L307.30 294.41 L308.30 294.19 L309.30 294.16 L310.30 294.23 L311.30 294.26 L312.30 294.28 L313.30 294.28 L314.30 294.22 L315.30 294.32 L316.30 294.24 L317.30 294.31 L318.30 294.29 L319.30 294.27 L320.30 294.27 L321.30 294.19 L322.30 294.29 L323.30 294.30 L324.30 294.21 L325.30 294.45 L326.30 294.26 L327.30 294.15 L328.30 294.12 L329.30 294.18 L330.30 294.07 L331.30 294.28 L332.30 294.16 L333.30 294.28 L334.30 294.14 L335.30 294.27 L336.30 294.34 L337.30 294.30 L338.30 294.11 L339.30 294.25 L340.30 294.22 L341.30 294.34 L342.30 294.28 L343.30 294.40 L344.30 294.27 L345.30 294.17 L346.30 294.18 L347.30 294.35 L348.30 294.17 L349.30 294.27 L350.30 294.42 L351.30 294.25 L352.30 294.18 L353.30 294.32 L354.30 294.28 L355.30 294.16 L356.30 294.32 L357.30 294.27 L358.30 294.31 L359.30 294.20 L360.30 294.34 L361.30 294.21 L362.30 294.35 L363.30 294.16 L364.30 294.28 L365.30 294.28 L366.30 294.15 L367.30 294.10 L368.30 294.20 L369.30 294.19 L370.30 294.20 L371.30 294.24 L372.30 294.43 L373.30 294.27 L374.30 294.38 L375.30 294.28 L376.30 294.34 L377.30 294.30 L378.30 294.26 L379.30 294.29 L380.30 294.43 L381.30 294.12 L382.30 294.27 L383.30 294.30 L384.30 294.16 L385.30 294.30 L386.30 294.27 L387.30 294.35 L388.30 294.30 L389.30 294.25 L390.30 294.28 L391.30 294.08 L392.30 294.41 L393.30 294.27 L394.30 294.14 L395.30 294.17 L396.30 294.23 L397.30 294.20 L398.30 294.26 L399.30 294.20 L400.30 294.29 L401.30 294.21 L402.30 294.24 L403.30 294.14 L404.30 294.19 L405.30 294.24 L406.30 294.17 L407.30 294.23 L408.30 294.22 L409.30 294.12 L410.30 294.33 L411.30 294.14 L412.30 294.38 L413.30 294.33 L414.30 294.29 L415.30 294.24 L416.30 294.18 L417.30 294.38 L418.30 294.41 L419.30 294.19 L420.30 294.39 L421.30 294.34 L422.30 294.32 L423.30 294.29 L424.30 294.23 L425.30 294.24 L426.30 294.27 L427.30 294.36 L428.30 294.15 L429.30 294.27 L430.30 294.16 L431.30 294.26 L432.30 294.23 L433.30 294.19 L434.30 294.30 L435.30 294.30 L436.30 294.15 L437.30 294.19 L438.30 294.29 L439.30 294.21 L440.30 294.27" stroke="#666" stroke-width="0.7" fill="none" stroke-dasharray="4 1.5"/>
<path d="M269.30 294.72 L270.30 294.77 L271.30 294.80 L272.30 294.67 L273.30 294.81 L274.30 294.77 L275.30 294.81 L276.30 294.77 L277.30 294.84 L278.30 294.67 L279.30 294.89 L280.30 294.85 L281.30 294.70 L282.30 294.80 L283.30 294.79 L284.30 294.61 L285.30 294.80 L286.30 294.70 L287.30 294.73 L288.30 294.70 L289.30 294.72 L290.30 294.76 L291.30 294.76 L292.30 294.63 L293.30 294.73 L294.30 294.64 L295.30 294.65 L296.30 294.72 L297.30 294.82 L298.30 294.80 L299.30 294.70 L300.30 294.69 L301.30 294.68 L302.30 294.76 L303.30 294.82 L304.30 294.75 L305.30 294.81 L306.30 294.78 L307.30 294.87 L308.30 294.59 L309.30 294.58 L310.30 294.73 L311.30 294.80 L312.30 294.72 L313.30 294.78 L314.30 294.66 L315.30 294.65 L316.30 294.69 L317.30 294.82 L318.30 294.81 L319.30 294.69 L320.30 294.76 L321.30 294.70 L322.30 294.75 L323.30 294.66 L324.30 294.75 L325.30 294.69 L326.30 294.75 L327.30 294.70 L328.30 294.68 L329.30 294.76 L330.30 294.72 L331.30 294.75 L332.30 294.72 L333.30 294.80 L334.30 294.68 L335.30 294.81 L336.30 294.86 L337.30 294.73 L338.30 294.89 L339.30 294.91 L340.30 294.79 L341.30 294.64 L342.30 294.62 L343.30 294.74 L344.30 294.89 L345.30 294.80 L346.30 294.81 L347.30 294.73 L348.30 294.69 L349.30 294.78 L350.30 294.66 L351.30 294.73 L352.30 294.79 L353.30 294.75 L354.30 294.79 L355.30 294.71 L356.30 294.80 L357.30 294.78 L358.30 294.62 L359.30 294.67 L360.30 294.69 L361.30 294.80 L362.30 294.77 L363.30 294.77 L364.30 294.76 L365.30 294.80 L366.30 294.83 L367.30 294.71 L368.30 294.62 L369.30 294.80 L370.30 294.73 L371.30 294.75 L372.30 294.74 L373.30 294.66 L374.30 294.63 L375.30 294.83 L376.30 294.84 L377.30 294.82 L378.30 294.77 L379.30 294.77 L380.30 294.72 L381.30 294.76 L382.30 294.72 L383.30 294.71 L384.30 294.77 L385.30 294.89 L386.30 294.60 L387.30 294.80 L388.30 294.80 L389.30 294.65 L390.30 294.78 L391.30 294.76 L392.30 294.71 L393.30 294.71 L394.30 294.64 L395.30 294.89 L396.30 294.94 L397.30 294.88 L398.30 294.73 L399.30 294.77 L400.30 294.78 L401.30 294.68 L402.30 294.73 L403.30 294.79 L404.30 294.72 L405.30 294.61 L406.30 294.65 L407.30 294.77 L408.30 294.72 L409.30 294.73 L410.30 294.86 L411.30 294.76 L412.30 294.69 L413.30 294.74 L414.30 294.92 L415.30 294.66 L416.30 294.89 L417.30 294.87 L418.30 294.74 L419.30 294.72 L420.30 294.86 L421.30 294.77 L422.30 294.71 L423.30 294.90 L424.30 294.76 L425.30 294.78 L426.30 294.75 L427.30 294.73 L428.30 294.76 L429.30 294.72 L430.30 294.79 L431.30 294.83 L432.30 294.84 L433.30 294.85 L434.30 294.87 L435.30 294.81 L436.30 294.70 L437.30 294.83 L438.30 294.62 L439.30 294.69 L440.30 294.77" stroke="#555" stroke-width="0.7" fill="none" stroke-dasharray="3 1.2"/>
<path d="M269.30 294.59 L270.30 294.58 L271.30 294.50 L272.30 294.57 L273.30 294.43 L274.30 294.32 L275.30 294.67 L276.30 294.55 L277.30 294.29 L278.30 294.39 L279.30 294.44 L280.30 294.53 L281.30 294.63 L282.30 294.53 L283.30 294.46 L284.30 294.55 L285.30 294.48 L286.30 294.52 L287.30 294.43 L288.30 294.38 L289.30 294.63 L290.30 294.47 L291.30 294.51 L292.30 294.44 L293.30 294.45 L294.30 294.46 L295.30 294.57 L296.30 294.62 L297.30 294.55 L298.30 294.44 L299.30 294.78 L300.30 294.58 L301.30 294.59 L302.30 294.45 L303.30 294.48 L304.30 294.56 L305.30 294.33 L306.30 294.42 L307.30 294.54 L308.30 294.74 L309.30 294.54 L310.30 294.40 L311.30 294.38 L312.30 294.60 L313.30 294.42 L314.30 294.47 L315.30 294.70 L316.30 294.51 L317.30 294.46 L318.30 294.42 L319.30 294.63 L320.30 294.63 L321.30 294.43 L322.30 294.36 L323.30 294.49 L324.30 294.64 L325.30 294.55 L326.30 294.38 L327.30 294.53 L328.30 294.58 L329.30 294.50 L330.30 294.52 L331.30 294.50 L332.30 294.45 L333.30 294.43 L334.30 294.36 L335.30 294.38 L336.30 294.33 L337.30 294.54 L338.30 294.55 L339.30 294.51 L340.30 294.54 L341.30 294.50 L342.30 294.42 L343.30 294.52" stroke="#333" stroke-width="0.8" fill="none" stroke-dasharray="2.5 1"/>
<path d="M269.60 252.26 L270.10 252.33 L270.60 252.41 L271.10 252.48 L271.60 252.55 L272.10 252.62 L272.61 252.68 L273.11 252.74 L273.61 252.80 L274.11 252.85 L274.61 252.91 L275.11 252.96 L275.61 253.00 L276.11 253.05 L276.61 253.09 L277.11 253.13 L277.61 253.16 L278.11 253.20 L278.62 253.23 L279.12 253.26 L279.62 253.29 L280.12 253.32 L280.62 253.34 L281.12 253.36 L281.62 253.38 L282.12 253.40 L282.62 253.42 L283.12 253.43 L283.62 253.44 L284.13 253.46 L284.63 253.47 L285.13 253.47 L285.63 253.48 L286.13 253.48 L286.63 253.49 L287.13 253.49 L287.63 253.49 L288.13 253.49 L288.63 253.49 L289.13 253.48 L289.64 253.48 L290.14 253.47 L290.64 253.46 L291.14 253.45 L291.64 253.44 L292.14 253.42 L292.64 253.41 L293.14 253.39 L293.64 253.37 L294.14 253.35 L294.64 253.33 L295.14 253.30 L295.65 253.28 L296.15 253.25 L296.65 253.21 L297.15 253.18 L297.65 253.14 L298.15 253.09 L298.65 253.05 L299.15 253.00 L299.65 252.94 L300.15 252.88 L300.65 252.82 L301.16 252.75 L301.66 252.67 L302.16 252.59 L302.66 252.50 L303.16 252.41 L303.66 252.31 L304.16 252.20 L304.66 252.08 L305.16 251.95 L305.66 251.81 L306.16 251.66 L306.66 251.50 L307.17 251.33 L307.67 251.14 L308.17 250.95 L308.67 250.74 L309.17 250.52 L309.67 250.28 L310.17 250.03 L310.67 249.76 L311.17 249.48 L311.67 249.18 L312.17 248.86 L312.68 248.52 L313.18 248.15 L313.68 247.76 L314.18 247.33 L314.68 246.86 L315.18 246.36 L315.68 245.81 L316.18 245.22 L316.68 244.58 L317.18 243.92 L317.68 243.24 L318.19 242.54 L318.69 241.86 L319.19 241.18 L319.69 240.51 L320.19 239.85 L320.69 239.19 L321.19 238.54 L321.69 237.89 L322.19 237.24 L322.69 236.58 L323.19 235.92 L323.69 235.26 L324.20 234.58 L324.70 233.90 L325.20 233.21 L325.70 232.52 L326.20 231.82 L326.70 231.13 L327.20 230.44 L327.70 229.75 L328.20 229.07 L328.70 228.40 L329.20 227.75 L329.71 227.11 L330.21 226.50 L330.71 225.91 L331.21 225.35 L331.71 224.83 L332.21 224.34 L332.71 223.89 L333.21 223.49 L333.71 223.13 L334.21 222.83 L334.71 222.59 L335.21 222.41 L335.72 222.30 L336.22 222.25 L336.72 222.27 L337.22 222.37 L337.72 222.54 L338.22 222.80 L338.72 223.11 L339.22 223.46 L339.72 223.87 L340.22 224.33 L340.72 224.84 L341.23 225.41 L341.73 226.03 L342.23 226.70 L342.73 227.41 L343.23 228.15 L343.73 228.92 L344.23 229.71 L344.73 230.51 L345.23 231.33 L345.73 232.15 L346.23 232.96 L346.74 233.78 L347.24 234.59 L347.74 235.42 L348.24 236.26 L348.74 237.13 L349.24 238.02 L349.74 238.95 L350.24 239.91 L350.74 240.92 L351.24 241.98 L351.74 243.09 L352.24 244.25 L352.75 245.43 L353.25 246.62 L353.75 247.81 L354.25 248.99 L354.75 250.16 L355.25 251.32 L355.75 252.45 L356.25 253.55 L356.75 254.61 L357.25 255.63 L357.75 256.61 L358.26 257.53 L358.76 258.41 L359.26 259.25 L359.76 260.05 L360.26 260.83 L360.76 261.58 L361.26 262.32 L361.76 263.04 L362.26 263.75 L362.76 264.47 L363.26 265.18 L363.76 265.91 L364.27 266.63 L364.77 267.35 L365.27 268.07 L365.77 268.79 L366.27 269.49 L366.77 270.19 L367.27 270.88 L367.77 271.55 L368.27 272.21 L368.77 272.85 L369.27 273.47 L369.78 274.07 L370.28 274.65 L370.78 275.21 L371.28 275.76 L371.78 276.29 L372.28 276.80 L372.78 277.30 L373.28 277.78 L373.78 278.25 L374.28 278.70 L374.78 279.14 L375.29 279.56 L375.79 279.98 L376.29 280.37 L376.79 280.76 L377.29 281.13 L377.79 281.49 L378.29 281.84 L378.79 282.18 L379.29 282.50 L379.79 282.82 L380.29 283.12 L380.79 283.42 L381.30 283.70 L381.80 283.98 L382.30 284.24 L382.80 284.50 L383.30 284.74 L383.80 284.98 L384.30 285.21 L384.80 285.43 L385.30 285.64 L385.80 285.85 L386.30 286.05 L386.81 286.24 L387.31 286.42 L387.81 286.59 L388.31 286.76 L388.81 286.92 L389.31 287.08 L389.81 287.23 L390.31 287.37 L390.81 287.51 L391.31 287.64 L391.81 287.77 L392.31 287.89 L392.82 288.01 L393.32 288.12 L393.82 288.23 L394.32 288.33 L394.82 288.43 L395.32 288.53 L395.82 288.62 L396.32 288.71 L396.82 288.80 L397.32 288.88 L397.82 288.96 L398.33 289.04 L398.83 289.12 L399.33 289.19 L399.83 289.26 L400.33 289.33 L400.83 289.40 L401.33 289.47 L401.83 289.54 L402.33 289.60 L402.83 289.66 L403.33 289.73 L403.84 289.79 L404.34 289.85 L404.84 289.91 L405.34 289.97 L405.84 290.02 L406.34 290.08 L406.84 290.14 L407.34 290.19 L407.84 290.25 L408.34 290.30 L408.84 290.35 L409.34 290.41 L409.85 290.46 L410.35 290.51 L410.85 290.56 L411.35 290.61 L411.85 290.66 L412.35 290.71 L412.85 290.75 L413.35 290.80 L413.85 290.85 L414.35 290.89 L414.85 290.94 L415.36 290.99 L415.86 291.03 L416.36 291.07 L416.86 291.12 L417.36 291.16 L417.86 291.20 L418.36 291.24 L418.86 291.28 L419.36 291.32 L419.86 291.36 L420.36 291.40 L420.86 291.44 L421.37 291.48 L421.87 291.52 L422.37 291.55 L422.87 291.59 L423.37 291.62 L423.87 291.66 L424.37 291.69 L424.87 291.72 L425.37 291.76 L425.87 291.79 L426.37 291.82 L426.88 291.85 L427.38 291.87 L427.88 291.90 L428.38 291.93 L428.88 291.95 L429.38 291.97 L429.88 292.00 L430.38 292.02 L430.88 292.04 L431.38 292.06 L431.88 292.08 L432.39 292.09 L432.89 292.11 L433.39 292.12 L433.89 292.13 L434.39 292.14 L434.89 292.15 L435.39 292.16 L435.89 292.17 L436.39 292.17 L436.89 292.18 L437.39 292.18 L437.89 292.18 L438.40 292.17 L438.90 292.17 L439.40 292.16 L439.90 292.15 L440.40 292.14 L440.90 292.13" stroke="#5e5e5e" stroke-width="1.0" fill="none"/>
<rect x="269.3" y="180.2" width="171.9" height="123.825" fill="none" stroke="#aaaaaa" stroke-width="1.25"/>
<line x1="267.3" y1="294.5" x2="269.3" y2="294.5" stroke="#aaaaaa" stroke-width="0.9"/>
<line x1="267.3" y1="275.45" x2="269.3" y2="275.45" stroke="#aaaaaa" stroke-width="0.9"/>
<line x1="267.3" y1="256.4" x2="269.3" y2="256.4" stroke="#aaaaaa" stroke-width="0.9"/>
<line x1="267.3" y1="237.35" x2="269.3" y2="237.35" stroke="#aaaaaa" stroke-width="0.9"/>
<line x1="267.3" y1="218.3" x2="269.3" y2="218.3" stroke="#aaaaaa" stroke-width="0.9"/>
<line x1="267.3" y1="199.25" x2="269.3" y2="199.25" stroke="#aaaaaa" stroke-width="0.9"/>
<line x1="267.3" y1="180.2" x2="269.3" y2="180.2" stroke="#aaaaaa" stroke-width="0.9"/>
<line x1="269.3" y1="304.025" x2="269.3" y2="306.025" stroke="#aaaaaa" stroke-width="0.9"/>
<line x1="297.95" y1="304.025" x2="297.95" y2="306.025" stroke="#aaaaaa" stroke-width="0.9"/>
<line x1="326.6" y1="304.025" x2="326.6" y2="306.025" stroke="#aaaaaa" stroke-width="0.9"/>
<line x1="355.25" y1="304.025" x2="355.25" y2="306.025" stroke="#aaaaaa" stroke-width="0.9"/>
<line x1="383.9" y1="304.025" x2="383.9" y2="306.025" stroke="#aaaaaa" stroke-width="0.9"/>
<line x1="412.55" y1="304.025" x2="412.55" y2="306.025" stroke="#aaaaaa" stroke-width="0.9"/>
<line x1="441.2" y1="304.025" x2="441.2" y2="306.025" stroke="#aaaaaa" stroke-width="0.9"/>
<line x1="408.3" y1="205.5" x2="425.5" y2="205.5" stroke="#7c7c7c" stroke-width="1.1"/>
<line x1="408.3" y1="211.6" x2="425.5" y2="211.6" stroke="#8a8a8a" stroke-width="1.1" stroke-dasharray="6.5 2.3"/>
<line x1="408.3" y1="217.5" x2="425.5" y2="217.5" stroke="#7c7c7c" stroke-width="1.1" stroke-dasharray="4.8 1.6"/>
<line x1="408.3" y1="223.7" x2="425.5" y2="223.7" stroke="#8a8a8a" stroke-width="1.0" stroke-dasharray="3.2 1.3"/>
<line x1="408.3" y1="229.9" x2="425.5" y2="229.9" stroke="#dddddd" stroke-width="1.0"/>
<line x1="408.3" y1="236" x2="425.5" y2="236" stroke="#9a9a9a" stroke-width="1.0" stroke-dasharray="4.5 2.5"/>
<rect x="273.8" y="275.3" width="60" height="11.2" fill="#a2cbc5"/>
<rect x="274.15" y="275.65" width="59.3" height="10.5" fill="none" stroke="#6a9996" stroke-width="0.7" opacity="0.8"/>
<rect x="282.371" y="276.3" width="0.8" height="9.2" fill="#5c9a96" opacity="0.22"/>
<rect x="290.943" y="276.3" width="0.8" height="9.2" fill="#5c9a96" opacity="0.22"/>
<rect x="299.514" y="276.3" width="0.8" height="9.2" fill="#5c9a96" opacity="0.22"/>
<rect x="308.086" y="276.3" width="0.8" height="9.2" fill="#5c9a96" opacity="0.22"/>
<rect x="316.657" y="276.3" width="0.8" height="9.2" fill="#5c9a96" opacity="0.22"/>
<rect x="325.229" y="276.3" width="0.8" height="9.2" fill="#5c9a96" opacity="0.22"/>
<rect x="284.514" y="277.3" width="4.286" height="7.2" fill="#ffffff" opacity="0.1"/>
<rect x="293.086" y="277.3" width="4.286" height="7.2" fill="#ffffff" opacity="0.1"/>
<rect x="301.657" y="277.3" width="4.286" height="7.2" fill="#ffffff" opacity="0.1"/>
<rect x="310.229" y="277.3" width="4.286" height="7.2" fill="#ffffff" opacity="0.1"/>
<rect x="318.8" y="277.3" width="4.286" height="7.2" fill="#ffffff" opacity="0.1"/>
<rect x="327.371" y="277.3" width="4.286" height="7.2" fill="#ffffff" opacity="0.1"/>
<rect x="274.4" y="278" width="9.8" height="6.4" fill="#b5cfcc" opacity="0.7"/>
<rect x="275.2" y="279.6" width="8.2" height="3.2" rx="1.2" fill="#8c1c18"/>
<path d="M498.20 298.69 L499.20 298.77 L500.20 298.77 L501.20 298.78 L502.20 298.91 L503.20 298.81 L504.20 298.84 L505.20 298.80 L506.20 298.71 L507.20 298.82 L508.20 298.87 L509.20 298.81 L510.20 298.75 L511.20 298.68 L512.20 298.96 L513.20 298.72 L514.20 298.72 L515.20 298.67 L516.20 298.83 L517.20 298.81 L518.20 298.72 L519.20 298.78 L520.20 298.82 L521.20 298.76 L522.20 298.70 L523.20 298.77 L524.20 298.82 L525.20 298.70 L526.20 298.74 L527.20 298.86 L528.20 298.91 L529.20 298.88 L530.20 298.83 L531.20 298.91 L532.20 298.76 L533.20 298.79 L534.20 298.78 L535.20 298.89 L536.20 298.72 L537.20 298.75 L538.20 298.96 L539.20 298.75 L540.20 298.62 L541.20 298.87 L542.20 298.90 L543.20 298.71 L544.20 298.71 L545.20 298.74 L546.20 298.81 L547.20 298.92 L548.20 298.90 L549.20 298.67 L550.20 298.94 L551.20 298.72 L552.20 298.83 L553.20 298.79 L554.20 298.76 L555.20 298.69 L556.20 299.01 L557.20 298.80 L558.20 298.94 L559.20 298.73 L560.20 298.86 L561.20 298.75 L562.20 298.84 L563.20 298.90 L564.20 298.72 L565.20 298.79 L566.20 298.84 L567.20 298.91 L568.20 298.90 L569.20 298.75 L570.20 298.70 L571.20 298.78 L572.20 298.88 L573.20 298.90 L574.20 298.67 L575.20 298.61 L576.20 298.75 L577.20 298.83 L578.20 298.92 L579.20 298.72 L580.20 298.78 L581.20 298.90 L582.20 298.73 L583.20 298.89 L584.20 298.96 L585.20 298.91 L586.20 298.98 L587.20 298.78 L588.20 298.66 L589.20 298.96 L590.20 298.88 L591.20 298.94 L592.20 298.83 L593.20 298.70 L594.20 298.77 L595.20 298.78 L596.20 298.74 L597.20 298.83 L598.20 298.84 L599.20 298.76 L600.20 298.64 L601.20 298.58 L602.20 298.80 L603.20 298.80 L604.20 298.73 L605.20 298.96 L606.20 298.74 L607.20 298.87 L608.20 298.86 L609.20 298.74 L610.20 298.93 L611.20 298.85 L612.20 298.84 L613.20 298.68 L614.20 298.73 L615.20 298.70 L616.20 298.79 L617.20 298.81 L618.20 298.88 L619.20 298.65 L620.20 298.83 L621.20 298.82 L622.20 298.88 L623.20 298.56 L624.20 298.86 L625.20 298.68 L626.20 298.79 L627.20 298.75 L628.20 298.72 L629.20 298.90 L630.20 298.88 L631.20 298.92 L632.20 298.83 L633.20 298.67 L634.20 298.88 L635.20 298.85 L636.20 298.96 L637.20 298.83 L638.20 298.75 L639.20 298.85 L640.20 298.71 L641.20 298.79 L642.20 298.80 L643.20 298.85 L644.20 298.81 L645.20 298.75 L646.20 298.86 L647.20 298.92 L648.20 298.90 L649.20 298.89 L650.20 298.82 L651.20 298.91 L652.20 298.77 L653.20 298.65 L654.20 298.78 L655.20 298.93 L656.20 298.65 L657.20 298.57 L658.20 298.96 L659.20 298.67 L660.20 298.86 L661.20 298.73 L662.20 298.89 L663.20 298.69 L664.20 298.71 L665.20 298.83 L666.20 298.79 L667.20 298.87 L668.20 298.97" stroke="#ececec" stroke-width="0.9" fill="none"/>
<path d="M497.20 294.74 L500.20 294.75 L503.20 294.76 L506.20 294.84 L509.20 294.75 L512.20 294.75 L515.20 294.78 L518.20 294.87 L521.20 294.75 L524.20 294.77 L527.20 294.81 L530.20 294.81 L533.20 294.82 L536.20 294.77 L539.20 294.75 L542.20 294.73 L545.20 294.82 L548.20 294.79 L551.20 294.82 L554.20 294.80 L557.20 294.87 L560.20 294.83 L563.20 294.81 L566.20 294.80 L569.20 294.77 L572.20 294.78 L575.20 294.78 L578.20 294.88 L581.20 294.79 L584.20 294.77 L587.20 294.81 L590.20 294.84 L593.20 294.74 L596.20 294.68 L599.20 294.79 L602.20 294.85 L605.20 294.77 L608.20 294.83 L611.20 294.82 L614.20 294.83 L617.20 294.77 L620.20 294.78 L623.20 294.88 L626.20 294.83 L629.20 294.67 L632.20 294.86 L635.20 294.90 L638.20 294.79 L641.20 294.84 L644.20 294.76 L647.20 294.80 L650.20 294.80 L653.20 294.77 L656.20 294.85 L659.20 294.83 L662.20 294.83 L665.20 294.85 L668.20 294.69" stroke="#8a8a8a" stroke-width="0.8" fill="none"/>
<path d="M497.20 294.62 L498.20 294.51 L499.20 294.44 L500.20 294.60 L501.20 294.63 L502.20 294.59 L503.20 294.35 L504.20 294.43 L505.20 294.60 L506.20 294.67 L507.20 294.43 L508.20 294.63 L509.20 294.64 L510.20 294.55 L511.20 294.44 L512.20 294.50 L513.20 294.52 L514.20 294.61 L515.20 294.62 L516.20 294.47 L517.20 294.54 L518.20 294.55 L519.20 294.54 L520.20 294.63 L521.20 294.53 L522.20 294.54 L523.20 294.43 L524.20 294.56 L525.20 294.47 L526.20 294.70 L527.20 294.56 L528.20 294.56 L529.20 294.56 L530.20 294.46 L531.20 294.52 L532.20 294.56 L533.20 294.62 L534.20 294.57 L535.20 294.44 L536.20 294.53 L537.20 294.54 L538.20 294.42 L539.20 294.59 L540.20 294.61 L541.20 294.48 L542.20 294.72 L543.20 294.58 L544.20 294.50 L545.20 294.71 L546.20 294.50 L547.20 294.56 L548.20 294.40 L549.20 294.46 L550.20 294.69 L551.20 294.47 L552.20 294.48 L553.20 294.53 L554.20 294.48 L555.20 294.45 L556.20 294.47 L557.20 294.54 L558.20 294.67 L559.20 294.61 L560.20 294.73 L561.20 294.48 L562.20 294.56 L563.20 294.57 L564.20 294.59 L565.20 294.61 L566.20 294.41 L567.20 294.67 L568.20 294.55 L569.20 294.51 L570.20 294.57 L571.20 294.50 L572.20 294.45 L573.20 294.52 L574.20 294.39 L575.20 294.46 L576.20 294.61 L577.20 294.59 L578.20 294.46 L579.20 294.37 L580.20 294.56 L581.20 294.58 L582.20 294.55 L583.20 294.47 L584.20 294.55 L585.20 294.52 L586.20 294.56 L587.20 294.60 L588.20 294.55 L589.20 294.53 L590.20 294.59 L591.20 294.57 L592.20 294.48 L593.20 294.54 L594.20 294.60 L595.20 294.60 L596.20 294.52 L597.20 294.54 L598.20 294.47 L599.20 294.57 L600.20 294.64 L601.20 294.58 L602.20 294.51 L603.20 294.60 L604.20 294.55 L605.20 294.60 L606.20 294.45 L607.20 294.52 L608.20 294.61 L609.20 294.64 L610.20 294.49 L611.20 294.51 L612.20 294.70 L613.20 294.58 L614.20 294.54 L615.20 294.59 L616.20 294.51 L617.20 294.42 L618.20 294.55 L619.20 294.52 L620.20 294.50 L621.20 294.55 L622.20 294.48 L623.20 294.51 L624.20 294.40 L625.20 294.65 L626.20 294.66 L627.20 294.46 L628.20 294.42 L629.20 294.58 L630.20 294.61 L631.20 294.51 L632.20 294.46 L633.20 294.70 L634.20 294.50 L635.20 294.58 L636.20 294.57 L637.20 294.57 L638.20 294.65 L639.20 294.66 L640.20 294.43 L641.20 294.54 L642.20 294.64 L643.20 294.56 L644.20 294.50 L645.20 294.61 L646.20 294.51 L647.20 294.53 L648.20 294.62 L649.20 294.60 L650.20 294.70 L651.20 294.61 L652.20 294.55 L653.20 294.63 L654.20 294.55 L655.20 294.56 L656.20 294.56 L657.20 294.52 L658.20 294.57 L659.20 294.56 L660.20 294.56 L661.20 294.47 L662.20 294.60 L663.20 294.56 L664.20 294.54 L665.20 294.54 L666.20 294.50 L667.20 294.49 L668.20 294.70 L669.20 294.56" stroke="#666" stroke-width="0.7" fill="none" stroke-dasharray="4 1.5"/>
<path d="M497.20 295.17 L498.20 295.06 L499.20 295.07 L500.20 295.12 L501.20 295.09 L502.20 295.17 L503.20 294.96 L504.20 295.12 L505.20 295.06 L506.20 295.15 L507.20 295.15 L508.20 295.12 L509.20 295.01 L510.20 295.01 L511.20 295.06 L512.20 295.01 L513.20 294.90 L514.20 294.94 L515.20 295.08 L516.20 294.97 L517.20 295.02 L518.20 295.05 L519.20 294.94 L520.20 295.01 L521.20 295.15 L522.20 295.16 L523.20 295.09 L524.20 295.09 L525.20 295.03 L526.20 295.05 L527.20 295.11 L528.20 294.93 L529.20 295.01 L530.20 295.02 L531.20 295.11 L532.20 294.96 L533.20 295.20 L534.20 294.99 L535.20 295.21 L536.20 295.05 L537.20 295.06 L538.20 295.18 L539.20 294.91 L540.20 295.10 L541.20 295.19 L542.20 294.98 L543.20 295.11 L544.20 295.00 L545.20 295.12 L546.20 295.02 L547.20 295.14 L548.20 295.02 L549.20 295.01 L550.20 295.03 L551.20 294.97 L552.20 295.16 L553.20 295.10 L554.20 295.15 L555.20 295.14 L556.20 295.16 L557.20 294.96 L558.20 295.08 L559.20 295.04 L560.20 295.05 L561.20 295.05 L562.20 294.93 L563.20 294.94 L564.20 294.87 L565.20 295.14 L566.20 295.04 L567.20 294.98 L568.20 295.06 L569.20 294.98 L570.20 294.97 L571.20 295.01 L572.20 295.02 L573.20 294.97 L574.20 294.95 L575.20 295.05 L576.20 295.25 L577.20 295.03 L578.20 295.15 L579.20 295.14 L580.20 295.02 L581.20 294.90 L582.20 294.99 L583.20 295.06 L584.20 295.13 L585.20 295.05 L586.20 295.00 L587.20 295.19 L588.20 295.06 L589.20 295.04 L590.20 295.08 L591.20 294.90 L592.20 295.12 L593.20 294.89 L594.20 295.00 L595.20 294.89 L596.20 294.96 L597.20 295.11 L598.20 295.17 L599.20 295.12 L600.20 295.09 L601.20 294.90 L602.20 295.23 L603.20 295.04 L604.20 295.12 L605.20 295.12 L606.20 295.12 L607.20 294.95 L608.20 295.05 L609.20 295.11 L610.20 294.97 L611.20 295.07 L612.20 295.02 L613.20 294.90 L614.20 295.06 L615.20 295.04 L616.20 295.18 L617.20 295.04 L618.20 295.14 L619.20 295.08 L620.20 295.15 L621.20 294.90 L622.20 295.07 L623.20 295.00 L624.20 295.10 L625.20 295.03 L626.20 295.05 L627.20 295.05 L628.20 295.10 L629.20 295.01 L630.20 295.10 L631.20 295.07 L632.20 295.06 L633.20 295.01 L634.20 295.15 L635.20 295.10 L636.20 295.09 L637.20 295.16 L638.20 295.03 L639.20 295.09 L640.20 295.03 L641.20 295.13 L642.20 295.09 L643.20 295.02 L644.20 295.06 L645.20 295.07 L646.20 294.98 L647.20 295.12 L648.20 295.08 L649.20 295.05 L650.20 295.16 L651.20 294.94 L652.20 295.08 L653.20 295.04 L654.20 295.02 L655.20 295.03 L656.20 294.97 L657.20 295.11 L658.20 294.93 L659.20 294.95 L660.20 295.00 L661.20 295.17 L662.20 295.10 L663.20 295.12 L664.20 294.98 L665.20 295.06 L666.20 295.10 L667.20 295.00 L668.20 294.97 L669.20 295.17" stroke="#555" stroke-width="0.7" fill="none" stroke-dasharray="3 1.2"/>
<path d="M497.20 294.80 L498.20 294.83 L499.20 294.82 L500.20 294.71 L501.20 294.68 L502.20 294.83 L503.20 294.84 L504.20 294.99 L505.20 294.74 L506.20 294.84 L507.20 294.82 L508.20 294.78 L509.20 294.67 L510.20 294.65 L511.20 295.00 L512.20 294.75 L513.20 295.00 L514.20 294.87 L515.20 294.74 L516.20 294.85 L517.20 294.65 L518.20 294.75 L519.20 294.80 L520.20 294.83 L521.20 294.75 L522.20 294.70 L523.20 294.79 L524.20 294.81 L525.20 294.77 L526.20 294.79 L527.20 294.90 L528.20 294.94 L529.20 294.94 L530.20 294.73 L531.20 294.77 L532.20 294.87 L533.20 294.84 L534.20 294.96 L535.20 294.80 L536.20 294.90 L537.20 294.76 L538.20 294.74 L539.20 294.77 L540.20 294.92 L541.20 294.62 L542.20 294.74 L543.20 294.69 L544.20 294.79 L545.20 294.88 L546.20 294.86 L547.20 294.85 L548.20 294.67 L549.20 294.84 L550.20 294.95 L551.20 294.84 L552.20 294.93 L553.20 294.69 L554.20 294.83 L555.20 294.91 L556.20 294.79 L557.20 294.68 L558.20 294.66 L559.20 294.71 L560.20 294.79 L561.20 294.69 L562.20 294.73 L563.20 294.67 L564.20 294.73 L565.20 294.78 L566.20 294.77 L567.20 294.80 L568.20 294.84 L569.20 294.90 L570.20 294.82 L571.20 294.64" stroke="#333" stroke-width="0.8" fill="none" stroke-dasharray="2.5 1"/>
<path d="M497.50 243.55 L498.00 243.58 L498.50 243.61 L499.00 243.64 L499.50 243.67 L500.00 243.71 L500.50 243.74 L501.00 243.76 L501.50 243.79 L502.00 243.82 L502.50 243.85 L503.00 243.88 L503.50 243.90 L504.00 243.93 L504.50 243.95 L505.00 243.97 L505.50 243.99 L506.00 244.01 L506.49 244.03 L506.99 244.04 L507.49 244.06 L507.99 244.07 L508.49 244.08 L508.99 244.09 L509.49 244.09 L509.99 244.10 L510.49 244.10 L510.99 244.10 L511.49 244.09 L511.99 244.09 L512.49 244.08 L512.99 244.07 L513.49 244.05 L513.99 244.03 L514.49 244.01 L514.99 243.99 L515.49 243.96 L515.99 243.93 L516.49 243.89 L516.99 243.85 L517.49 243.81 L517.99 243.76 L518.49 243.71 L518.99 243.66 L519.49 243.60 L519.99 243.53 L520.49 243.47 L520.99 243.39 L521.49 243.31 L521.99 243.23 L522.49 243.14 L522.99 243.05 L523.48 242.95 L523.98 242.85 L524.48 242.74 L524.98 242.63 L525.48 242.51 L525.98 242.38 L526.48 242.25 L526.98 242.12 L527.48 241.97 L527.98 241.82 L528.48 241.67 L528.98 241.51 L529.48 241.34 L529.98 241.16 L530.48 240.98 L530.98 240.79 L531.48 240.59 L531.98 240.39 L532.48 240.17 L532.98 239.95 L533.48 239.72 L533.98 239.47 L534.48 239.22 L534.98 238.96 L535.48 238.69 L535.98 238.40 L536.48 238.10 L536.98 237.79 L537.48 237.46 L537.98 237.12 L538.48 236.76 L538.98 236.38 L539.48 235.98 L539.98 235.57 L540.47 235.13 L540.97 234.67 L541.47 234.19 L541.97 233.69 L542.47 233.16 L542.97 232.62 L543.47 232.04 L543.97 231.44 L544.47 230.81 L544.97 230.16 L545.47 229.48 L545.97 228.77 L546.47 228.04 L546.97 227.28 L547.47 226.49 L547.97 225.68 L548.47 224.84 L548.97 223.98 L549.47 223.09 L549.97 222.19 L550.47 221.26 L550.97 220.33 L551.47 219.38 L551.97 218.42 L552.47 217.46 L552.97 216.50 L553.47 215.53 L553.97 214.57 L554.47 213.61 L554.97 212.67 L555.47 211.73 L555.97 210.82 L556.47 209.92 L556.97 209.05 L557.47 208.21 L557.96 207.41 L558.46 206.65 L558.96 205.93 L559.46 205.26 L559.96 204.65 L560.46 204.10 L560.96 203.62 L561.46 203.21 L561.96 202.89 L562.46 202.68 L562.96 202.57 L563.46 202.58 L563.96 202.72 L564.46 202.99 L564.96 203.40 L565.46 203.92 L565.96 204.51 L566.46 205.18 L566.96 205.92 L567.46 206.73 L567.96 207.61 L568.46 208.54 L568.96 209.54 L569.46 210.58 L569.96 211.67 L570.46 212.81 L570.96 213.99 L571.46 215.20 L571.96 216.44 L572.46 217.71 L572.96 219.01 L573.46 220.36 L573.96 221.75 L574.46 223.18 L574.95 224.67 L575.45 226.21 L575.95 227.78 L576.45 229.38 L576.95 230.99 L577.45 232.59 L577.95 234.17 L578.45 235.71 L578.95 237.20 L579.45 238.62 L579.95 239.98 L580.45 241.29 L580.95 242.55 L581.45 243.78 L581.95 244.97 L582.45 246.16 L582.95 247.34 L583.45 248.54 L583.95 249.77 L584.45 251.04 L584.95 252.35 L585.45 253.70 L585.95 255.06 L586.45 256.43 L586.95 257.79 L587.45 259.13 L587.95 260.43 L588.45 261.67 L588.95 262.86 L589.45 263.98 L589.95 265.04 L590.45 266.04 L590.95 266.99 L591.45 267.88 L591.94 268.73 L592.44 269.53 L592.94 270.30 L593.44 271.02 L593.94 271.70 L594.44 272.35 L594.94 272.96 L595.44 273.54 L595.94 274.10 L596.44 274.62 L596.94 275.12 L597.44 275.60 L597.94 276.05 L598.44 276.49 L598.94 276.91 L599.44 277.32 L599.94 277.71 L600.44 278.09 L600.94 278.46 L601.44 278.81 L601.94 279.15 L602.44 279.48 L602.94 279.80 L603.44 280.11 L603.94 280.41 L604.44 280.70 L604.94 280.98 L605.44 281.25 L605.94 281.51 L606.44 281.77 L606.94 282.02 L607.44 282.26 L607.94 282.50 L608.44 282.73 L608.93 282.95 L609.43 283.17 L609.93 283.38 L610.43 283.59 L610.93 283.80 L611.43 284.00 L611.93 284.19 L612.43 284.39 L612.93 284.58 L613.43 284.76 L613.93 284.94 L614.43 285.12 L614.93 285.29 L615.43 285.47 L615.93 285.64 L616.43 285.80 L616.93 285.96 L617.43 286.12 L617.93 286.28 L618.43 286.44 L618.93 286.59 L619.43 286.74 L619.93 286.89 L620.43 287.03 L620.93 287.18 L621.43 287.32 L621.93 287.45 L622.43 287.59 L622.93 287.72 L623.43 287.85 L623.93 287.98 L624.43 288.11 L624.93 288.23 L625.43 288.35 L625.93 288.47 L626.42 288.58 L626.92 288.69 L627.42 288.80 L627.92 288.91 L628.42 289.01 L628.92 289.11 L629.42 289.21 L629.92 289.31 L630.42 289.40 L630.92 289.49 L631.42 289.57 L631.92 289.66 L632.42 289.74 L632.92 289.82 L633.42 289.90 L633.92 289.97 L634.42 290.05 L634.92 290.12 L635.42 290.19 L635.92 290.25 L636.42 290.32 L636.92 290.38 L637.42 290.44 L637.92 290.50 L638.42 290.55 L638.92 290.61 L639.42 290.66 L639.92 290.71 L640.42 290.76 L640.92 290.81 L641.42 290.85 L641.92 290.90 L642.42 290.94 L642.92 290.98 L643.41 291.02 L643.91 291.06 L644.41 291.09 L644.91 291.13 L645.41 291.16 L645.91 291.20 L646.41 291.23 L646.91 291.26 L647.41 291.29 L647.91 291.31 L648.41 291.34 L648.91 291.37 L649.41 291.39 L649.91 291.42 L650.41 291.44 L650.91 291.46 L651.41 291.48 L651.91 291.50 L652.41 291.52 L652.91 291.54 L653.41 291.56 L653.91 291.58 L654.41 291.60 L654.91 291.61 L655.41 291.63 L655.91 291.65 L656.41 291.66 L656.91 291.68 L657.41 291.69 L657.91 291.71 L658.41 291.72 L658.91 291.74 L659.41 291.75 L659.91 291.76 L660.40 291.78 L660.90 291.79 L661.40 291.80 L661.90 291.82 L662.40 291.83 L662.90 291.85 L663.40 291.86 L663.90 291.87 L664.40 291.89 L664.90 291.90 L665.40 291.92 L665.90 291.93 L666.40 291.95 L666.90 291.97 L667.40 291.98 L667.90 292.00 L668.40 292.02 L668.90 292.03" stroke="#5e5e5e" stroke-width="1.0" fill="none"/>
<rect x="497.2" y="180.3" width="172" height="124.042" fill="none" stroke="#aaaaaa" stroke-width="1.25"/>
<line x1="495.2" y1="294.8" x2="497.2" y2="294.8" stroke="#aaaaaa" stroke-width="0.9"/>
<line x1="495.2" y1="275.717" x2="497.2" y2="275.717" stroke="#aaaaaa" stroke-width="0.9"/>
<line x1="495.2" y1="256.633" x2="497.2" y2="256.633" stroke="#aaaaaa" stroke-width="0.9"/>
<line x1="495.2" y1="237.55" x2="497.2" y2="237.55" stroke="#aaaaaa" stroke-width="0.9"/>
<line x1="495.2" y1="218.467" x2="497.2" y2="218.467" stroke="#aaaaaa" stroke-width="0.9"/>
<line x1="495.2" y1="199.383" x2="497.2" y2="199.383" stroke="#aaaaaa" stroke-width="0.9"/>
<line x1="495.2" y1="180.3" x2="497.2" y2="180.3" stroke="#aaaaaa" stroke-width="0.9"/>
<line x1="497.2" y1="304.342" x2="497.2" y2="306.342" stroke="#aaaaaa" stroke-width="0.9"/>
<line x1="525.867" y1="304.342" x2="525.867" y2="306.342" stroke="#aaaaaa" stroke-width="0.9"/>
<line x1="554.533" y1="304.342" x2="554.533" y2="306.342" stroke="#aaaaaa" stroke-width="0.9"/>
<line x1="583.2" y1="304.342" x2="583.2" y2="306.342" stroke="#aaaaaa" stroke-width="0.9"/>
<line x1="611.867" y1="304.342" x2="611.867" y2="306.342" stroke="#aaaaaa" stroke-width="0.9"/>
<line x1="640.533" y1="304.342" x2="640.533" y2="306.342" stroke="#aaaaaa" stroke-width="0.9"/>
<line x1="669.2" y1="304.342" x2="669.2" y2="306.342" stroke="#aaaaaa" stroke-width="0.9"/>
<line x1="635.8" y1="207" x2="653" y2="207" stroke="#7c7c7c" stroke-width="1.1"/>
<line x1="635.8" y1="212.9" x2="653" y2="212.9" stroke="#8a8a8a" stroke-width="1.1" stroke-dasharray="6.5 2.3"/>
<line x1="635.8" y1="218.8" x2="653" y2="218.8" stroke="#7c7c7c" stroke-width="1.1" stroke-dasharray="4.8 1.6"/>
<line x1="635.8" y1="224.9" x2="653" y2="224.9" stroke="#8a8a8a" stroke-width="1.0" stroke-dasharray="3.2 1.3"/>
<line x1="635.8" y1="231" x2="653" y2="231" stroke="#dddddd" stroke-width="1.0"/>
<line x1="635.8" y1="237" x2="653" y2="237" stroke="#9a9a9a" stroke-width="1.0" stroke-dasharray="4.5 2.5"/>
<rect x="502.2" y="277.4" width="61.8" height="12.1" fill="#7db6b7"/>
<rect x="502.55" y="277.75" width="61.1" height="11.4" fill="none" stroke="#6a9996" stroke-width="0.7" opacity="0.8"/>
<rect x="511.029" y="278.4" width="0.8" height="10.1" fill="#5c9a96" opacity="0.22"/>
<rect x="519.857" y="278.4" width="0.8" height="10.1" fill="#5c9a96" opacity="0.22"/>
<rect x="528.686" y="278.4" width="0.8" height="10.1" fill="#5c9a96" opacity="0.22"/>
<rect x="537.514" y="278.4" width="0.8" height="10.1" fill="#5c9a96" opacity="0.22"/>
<rect x="546.343" y="278.4" width="0.8" height="10.1" fill="#5c9a96" opacity="0.22"/>
<rect x="555.171" y="278.4" width="0.8" height="10.1" fill="#5c9a96" opacity="0.22"/>
<rect x="513.236" y="279.4" width="4.414" height="8.1" fill="#ffffff" opacity="0.1"/>
<rect x="522.064" y="279.4" width="4.414" height="8.1" fill="#ffffff" opacity="0.1"/>
<rect x="530.893" y="279.4" width="4.414" height="8.1" fill="#ffffff" opacity="0.1"/>
<rect x="539.721" y="279.4" width="4.414" height="8.1" fill="#ffffff" opacity="0.1"/>
<rect x="548.55" y="279.4" width="4.414" height="8.1" fill="#ffffff" opacity="0.1"/>
<rect x="557.379" y="279.4" width="4.414" height="8.1" fill="#ffffff" opacity="0.1"/>
<rect x="502.9" y="281.7" width="9.9" height="6.4" fill="#b5cfcc" opacity="0.7"/>
<rect x="503.7" y="283.3" width="8.3" height="3.2" rx="1.2" fill="#8c1c18"/>
<g filter="url(#g)">
<text transform="matrix(0.057 0 0 0.068 1 11.048)" fill="#1a1a1a" stroke="#1a1a1a" stroke-width="7.261">(a)</text>
<text transform="matrix(0 -0.039 0.041 0 22.9 100.5)" fill="#222" stroke="#222" stroke-width="7.066">Absorbance (O.D.)</text>
<text transform="matrix(0.04 0 0 0.039 88.3 153.5)" fill="#222" stroke="#222" stroke-width="7.072">Wavelength (nm)</text>
<text transform="matrix(0.039 0 0 0.042 89.1 22.55)" fill="#1e1e1e" stroke="#1e1e1e" stroke-width="8.434">15 nm AuNPs</text>
<text transform="matrix(0.026 0 0 0.027 30.832 123.7)" fill="#2a2a2a" stroke="#2a2a2a" stroke-width="8.316">0.0</text>
<text transform="matrix(0.026 0 0 0.027 30.832 104.65)" fill="#2a2a2a" stroke="#2a2a2a" stroke-width="8.316">0.1</text>
<text transform="matrix(0.026 0 0 0.027 30.832 85.6)" fill="#2a2a2a" stroke="#2a2a2a" stroke-width="8.316">0.2</text>
<text transform="matrix(0.026 0 0 0.027 30.832 66.55)" fill="#2a2a2a" stroke="#2a2a2a" stroke-width="8.316">0.3</text>
<text transform="matrix(0.026 0 0 0.027 30.832 47.5)" fill="#2a2a2a" stroke="#2a2a2a" stroke-width="8.316">0.4</text>
<text transform="matrix(0.026 0 0 0.027 30.832 28.45)" fill="#2a2a2a" stroke="#2a2a2a" stroke-width="8.316">0.5</text>
<text transform="matrix(0.026 0 0 0.027 30.832 9.4)" fill="#2a2a2a" stroke="#2a2a2a" stroke-width="8.316">0.6</text>
<text transform="matrix(0.025 0 0 0.027 38.13 140.125)" fill="#2a2a2a" stroke="#2a2a2a" stroke-width="8.45">400</text>
<text transform="matrix(0.025 0 0 0.027 66.73 140.125)" fill="#2a2a2a" stroke="#2a2a2a" stroke-width="8.45">450</text>
<text transform="matrix(0.025 0 0 0.027 95.33 140.125)" fill="#2a2a2a" stroke="#2a2a2a" stroke-width="8.45">500</text>
<text transform="matrix(0.025 0 0 0.027 123.93 140.125)" fill="#2a2a2a" stroke="#2a2a2a" stroke-width="8.45">550</text>
<text transform="matrix(0.025 0 0 0.027 152.53 140.125)" fill="#2a2a2a" stroke="#2a2a2a" stroke-width="8.45">600</text>
<text transform="matrix(0.025 0 0 0.027 181.13 140.125)" fill="#2a2a2a" stroke="#2a2a2a" stroke-width="8.45">650</text>
<text transform="matrix(0.025 0 0 0.027 209.73 140.125)" fill="#2a2a2a" stroke="#2a2a2a" stroke-width="8.45">700</text>
<text transform="matrix(0.025 0 0 0.026 199.8 32.2)" fill="#2a2a2a" stroke="#2a2a2a" stroke-width="3.933">total</text>
<text transform="matrix(0.025 0 0 0.026 199.8 38.4)" fill="#2a2a2a" stroke="#2a2a2a" stroke-width="3.933">0 h</text>
<text transform="matrix(0.025 0 0 0.026 199.8 44.3)" fill="#2a2a2a" stroke="#2a2a2a" stroke-width="3.933">8 h</text>
<text transform="matrix(0.025 0 0 0.026 199.8 50.4)" fill="#2a2a2a" stroke="#2a2a2a" stroke-width="3.933">24 h</text>
<text transform="matrix(0.025 0 0 0.026 199.8 56.6)" fill="#2a2a2a" stroke="#2a2a2a" stroke-width="3.933">48 h</text>
<text transform="matrix(0.025 0 0 0.026 199.8 62.5)" fill="#2a2a2a" stroke="#2a2a2a" stroke-width="3.933">72 h</text>
<text transform="matrix(0.03 0 0 0.033 47.8 99.8)" fill="#202020" stroke="#202020" stroke-width="9.592">NP</text>
<text transform="matrix(0.03 0 0 0.033 59.5 99.8)" fill="#202020" stroke="#202020" stroke-width="9.592">0</text>
<text transform="matrix(0.03 0 0 0.033 68.3 99.8)" fill="#202020" stroke="#202020" stroke-width="9.592">8</text>
<text transform="matrix(0.03 0 0 0.033 77 99.8)" fill="#202020" stroke="#202020" stroke-width="9.592">24</text>
<text transform="matrix(0.03 0 0 0.033 86 99.8)" fill="#202020" stroke="#202020" stroke-width="9.592">48</text>
<text transform="matrix(0.03 0 0 0.033 95 99.8)" fill="#202020" stroke="#202020" stroke-width="9.592">72</text>
<text transform="matrix(0.037 0 0 0.033 103.5 99.8)" fill="#202020" stroke="#202020" stroke-width="8.65">(h)</text>
<text transform="matrix(0.059 0 0 0.068 229.2 11.025)" fill="#1a1a1a" stroke="#1a1a1a" stroke-width="7.056">(b)</text>
<text transform="matrix(0 -0.039 0.041 0 251.9 100.6)" fill="#222" stroke="#222" stroke-width="7.055">Absorbance (O.D.)</text>
<text transform="matrix(0.04 0 0 0.039 317.4 153.5)" fill="#222" stroke="#222" stroke-width="7.06">Wavelength (nm)</text>
<text transform="matrix(0.04 0 0 0.042 302 22.55)" fill="#1e1e1e" stroke="#1e1e1e" stroke-width="8.323">15 nm Au-Ag</text>
<text transform="matrix(0.027 0 0 0.029 348.4 24.6)" fill="#1e1e1e" stroke="#1e1e1e" stroke-width="7.184">1000/1</text>
<text transform="matrix(0.034 0 0 0.042 367.6 22.55)" fill="#1e1e1e" stroke="#1e1e1e" stroke-width="8.982">NPs</text>
<text transform="matrix(0.026 0 0 0.027 257.832 123.7)" fill="#2a2a2a" stroke="#2a2a2a" stroke-width="8.316">0.0</text>
<text transform="matrix(0.026 0 0 0.027 257.832 104.65)" fill="#2a2a2a" stroke="#2a2a2a" stroke-width="8.316">0.1</text>
<text transform="matrix(0.026 0 0 0.027 257.832 85.6)" fill="#2a2a2a" stroke="#2a2a2a" stroke-width="8.316">0.2</text>
<text transform="matrix(0.026 0 0 0.027 257.832 66.55)" fill="#2a2a2a" stroke="#2a2a2a" stroke-width="8.316">0.3</text>
<text transform="matrix(0.026 0 0 0.027 257.832 47.5)" fill="#2a2a2a" stroke="#2a2a2a" stroke-width="8.316">0.4</text>
<text transform="matrix(0.026 0 0 0.027 257.832 28.45)" fill="#2a2a2a" stroke="#2a2a2a" stroke-width="8.316">0.5</text>
<text transform="matrix(0.026 0 0 0.027 257.832 9.4)" fill="#2a2a2a" stroke="#2a2a2a" stroke-width="8.316">0.6</text>
<text transform="matrix(0.025 0 0 0.027 265.13 140.125)" fill="#2a2a2a" stroke="#2a2a2a" stroke-width="8.45">400</text>
<text transform="matrix(0.025 0 0 0.027 293.83 140.125)" fill="#2a2a2a" stroke="#2a2a2a" stroke-width="8.45">450</text>
<text transform="matrix(0.025 0 0 0.027 322.53 140.125)" fill="#2a2a2a" stroke="#2a2a2a" stroke-width="8.45">500</text>
<text transform="matrix(0.025 0 0 0.027 351.23 140.125)" fill="#2a2a2a" stroke="#2a2a2a" stroke-width="8.45">550</text>
<text transform="matrix(0.025 0 0 0.027 379.93 140.125)" fill="#2a2a2a" stroke="#2a2a2a" stroke-width="8.45">600</text>
<text transform="matrix(0.025 0 0 0.027 408.63 140.125)" fill="#2a2a2a" stroke="#2a2a2a" stroke-width="8.45">650</text>
<text transform="matrix(0.025 0 0 0.027 437.33 140.125)" fill="#2a2a2a" stroke="#2a2a2a" stroke-width="8.45">700</text>
<text transform="matrix(0.025 0 0 0.026 427 31.9)" fill="#2a2a2a" stroke="#2a2a2a" stroke-width="3.933">total</text>
<text transform="matrix(0.025 0 0 0.026 427 38)" fill="#2a2a2a" stroke="#2a2a2a" stroke-width="3.933">0 h</text>
<text transform="matrix(0.025 0 0 0.026 427 44.1)" fill="#2a2a2a" stroke="#2a2a2a" stroke-width="3.933">8 h</text>
<text transform="matrix(0.025 0 0 0.026 427 50.2)" fill="#2a2a2a" stroke="#2a2a2a" stroke-width="3.933">24 h</text>
<text transform="matrix(0.025 0 0 0.026 427 56.3)" fill="#2a2a2a" stroke="#2a2a2a" stroke-width="3.933">48 h</text>
<text transform="matrix(0.025 0 0 0.026 427 62.4)" fill="#2a2a2a" stroke="#2a2a2a" stroke-width="3.933">72 h</text>
<text transform="matrix(0.029 0 0 0.031 276 99.1)" fill="#202020" stroke="#202020" stroke-width="10.038">NP</text>
<text transform="matrix(0.029 0 0 0.031 287.6 99.1)" fill="#202020" stroke="#202020" stroke-width="10.038">0</text>
<text transform="matrix(0.029 0 0 0.031 297.9 99.1)" fill="#202020" stroke="#202020" stroke-width="10.038">8</text>
<text transform="matrix(0.029 0 0 0.031 305.1 99.1)" fill="#202020" stroke="#202020" stroke-width="10.038">24</text>
<text transform="matrix(0.029 0 0 0.031 315 99.1)" fill="#202020" stroke="#202020" stroke-width="10.038">48</text>
<text transform="matrix(0.029 0 0 0.031 325 99.1)" fill="#202020" stroke="#202020" stroke-width="10.038">72</text>
<text transform="matrix(0.034 0 0 0.031 333.8 99.1)" fill="#202020" stroke="#202020" stroke-width="9.271">(h)</text>
<text transform="matrix(0.056 0 0 0.068 457.9 11.048)" fill="#1a1a1a" stroke="#1a1a1a" stroke-width="7.282">(c)</text>
<text transform="matrix(0 -0.038 0.041 0 480.65 100.3)" fill="#222" stroke="#222" stroke-width="7.088">Absorbance (O.D.)</text>
<text transform="matrix(0.04 0 0 0.039 545.7 153.5)" fill="#222" stroke="#222" stroke-width="7.037">Wavelength (nm)</text>
<text transform="matrix(0.04 0 0 0.042 529.8 22.55)" fill="#1e1e1e" stroke="#1e1e1e" stroke-width="8.35">15 nm Au-Ag</text>
<text transform="matrix(0.026 0 0 0.029 576.4 24.6)" fill="#1e1e1e" stroke="#1e1e1e" stroke-width="7.289">100/1</text>
<text transform="matrix(0.034 0 0 0.042 592.1 22.55)" fill="#1e1e1e" stroke="#1e1e1e" stroke-width="9.052">NPs</text>
<text transform="matrix(0.026 0 0 0.027 485.532 123.6)" fill="#2a2a2a" stroke="#2a2a2a" stroke-width="8.316">0.0</text>
<text transform="matrix(0.026 0 0 0.027 485.532 104.583)" fill="#2a2a2a" stroke="#2a2a2a" stroke-width="8.316">0.1</text>
<text transform="matrix(0.026 0 0 0.027 485.532 85.567)" fill="#2a2a2a" stroke="#2a2a2a" stroke-width="8.316">0.2</text>
<text transform="matrix(0.026 0 0 0.027 485.532 66.55)" fill="#2a2a2a" stroke="#2a2a2a" stroke-width="8.316">0.3</text>
<text transform="matrix(0.026 0 0 0.027 485.532 47.533)" fill="#2a2a2a" stroke="#2a2a2a" stroke-width="8.316">0.4</text>
<text transform="matrix(0.026 0 0 0.027 485.532 28.517)" fill="#2a2a2a" stroke="#2a2a2a" stroke-width="8.316">0.5</text>
<text transform="matrix(0.026 0 0 0.027 485.532 9.5)" fill="#2a2a2a" stroke="#2a2a2a" stroke-width="8.316">0.6</text>
<text transform="matrix(0.025 0 0 0.027 492.83 140.008)" fill="#2a2a2a" stroke="#2a2a2a" stroke-width="8.45">400</text>
<text transform="matrix(0.025 0 0 0.027 521.48 140.008)" fill="#2a2a2a" stroke="#2a2a2a" stroke-width="8.45">450</text>
<text transform="matrix(0.025 0 0 0.027 550.13 140.008)" fill="#2a2a2a" stroke="#2a2a2a" stroke-width="8.45">500</text>
<text transform="matrix(0.025 0 0 0.027 578.78 140.008)" fill="#2a2a2a" stroke="#2a2a2a" stroke-width="8.45">550</text>
<text transform="matrix(0.025 0 0 0.027 607.43 140.008)" fill="#2a2a2a" stroke="#2a2a2a" stroke-width="8.45">600</text>
<text transform="matrix(0.025 0 0 0.027 636.08 140.008)" fill="#2a2a2a" stroke="#2a2a2a" stroke-width="8.45">650</text>
<text transform="matrix(0.025 0 0 0.027 664.73 140.008)" fill="#2a2a2a" stroke="#2a2a2a" stroke-width="8.45">700</text>
<text transform="matrix(0.025 0 0 0.026 655 36)" fill="#2a2a2a" stroke="#2a2a2a" stroke-width="3.933">total</text>
<text transform="matrix(0.025 0 0 0.026 655 42.1)" fill="#2a2a2a" stroke="#2a2a2a" stroke-width="3.933">0 h</text>
<text transform="matrix(0.025 0 0 0.026 655 48.1)" fill="#2a2a2a" stroke="#2a2a2a" stroke-width="3.933">8 h</text>
<text transform="matrix(0.025 0 0 0.026 655 54.2)" fill="#2a2a2a" stroke="#2a2a2a" stroke-width="3.933">24 h</text>
<text transform="matrix(0.025 0 0 0.026 655 60.3)" fill="#2a2a2a" stroke="#2a2a2a" stroke-width="3.933">48 h</text>
<text transform="matrix(0.025 0 0 0.026 655 66.4)" fill="#2a2a2a" stroke="#2a2a2a" stroke-width="3.933">72 h</text>
<text transform="matrix(0.029 0 0 0.032 504 99.8)" fill="#202020" stroke="#202020" stroke-width="9.81">NP</text>
<text transform="matrix(0.029 0 0 0.032 515.7 99.8)" fill="#202020" stroke="#202020" stroke-width="9.81">0</text>
<text transform="matrix(0.029 0 0 0.032 524.7 99.8)" fill="#202020" stroke="#202020" stroke-width="9.81">8</text>
<text transform="matrix(0.029 0 0 0.032 533.7 99.8)" fill="#202020" stroke="#202020" stroke-width="9.81">24</text>
<text transform="matrix(0.029 0 0 0.032 543.2 99.8)" fill="#202020" stroke="#202020" stroke-width="9.81">48</text>
<text transform="matrix(0.029 0 0 0.032 553.8 99.8)" fill="#202020" stroke="#202020" stroke-width="9.81">72</text>
<text transform="matrix(0.035 0 0 0.032 562.3 99.8)" fill="#202020" stroke="#202020" stroke-width="8.949">(h)</text>
<text transform="matrix(0.062 0 0 0.07 1.2 182.88)" fill="#1a1a1a" stroke="#1a1a1a" stroke-width="6.838">(d)</text>
<text transform="matrix(0 -0.039 0.04 0 25.4 274.5)" fill="#222" stroke="#222" stroke-width="7.103">Absorbance (O.D.)</text>
<text transform="matrix(0.04 0 0 0.041 90.9 326.8)" fill="#222" stroke="#222" stroke-width="6.921">Wavelength (nm)</text>
<text transform="matrix(0.039 0 0 0.043 88.9 193.5)" fill="#1e1e1e" stroke="#1e1e1e" stroke-width="8.248">20 nm AuNPs</text>
<text transform="matrix(0.026 0 0 0.027 30.832 296.7)" fill="#2a2a2a" stroke="#2a2a2a" stroke-width="8.316">0.0</text>
<text transform="matrix(0.026 0 0 0.027 30.832 277.633)" fill="#2a2a2a" stroke="#2a2a2a" stroke-width="8.316">0.1</text>
<text transform="matrix(0.026 0 0 0.027 30.832 258.567)" fill="#2a2a2a" stroke="#2a2a2a" stroke-width="8.316">0.2</text>
<text transform="matrix(0.026 0 0 0.027 30.832 239.5)" fill="#2a2a2a" stroke="#2a2a2a" stroke-width="8.316">0.3</text>
<text transform="matrix(0.026 0 0 0.027 30.832 220.433)" fill="#2a2a2a" stroke="#2a2a2a" stroke-width="8.316">0.4</text>
<text transform="matrix(0.026 0 0 0.027 30.832 201.367)" fill="#2a2a2a" stroke="#2a2a2a" stroke-width="8.316">0.5</text>
<text transform="matrix(0.026 0 0 0.027 30.832 182.3)" fill="#2a2a2a" stroke="#2a2a2a" stroke-width="8.316">0.6</text>
<text transform="matrix(0.025 0 0 0.027 38.13 313.133)" fill="#2a2a2a" stroke="#2a2a2a" stroke-width="8.45">400</text>
<text transform="matrix(0.025 0 0 0.027 66.746 313.133)" fill="#2a2a2a" stroke="#2a2a2a" stroke-width="8.45">450</text>
<text transform="matrix(0.025 0 0 0.027 95.363 313.133)" fill="#2a2a2a" stroke="#2a2a2a" stroke-width="8.45">500</text>
<text transform="matrix(0.025 0 0 0.027 123.98 313.133)" fill="#2a2a2a" stroke="#2a2a2a" stroke-width="8.45">550</text>
<text transform="matrix(0.025 0 0 0.027 152.596 313.133)" fill="#2a2a2a" stroke="#2a2a2a" stroke-width="8.45">600</text>
<text transform="matrix(0.025 0 0 0.027 181.213 313.133)" fill="#2a2a2a" stroke="#2a2a2a" stroke-width="8.45">650</text>
<text transform="matrix(0.025 0 0 0.027 209.83 313.133)" fill="#2a2a2a" stroke="#2a2a2a" stroke-width="8.45">700</text>
<text transform="matrix(0.025 0 0 0.026 194.3 208.8)" fill="#2a2a2a" stroke="#2a2a2a" stroke-width="3.933">total</text>
<text transform="matrix(0.025 0 0 0.026 194.3 214.7)" fill="#2a2a2a" stroke="#2a2a2a" stroke-width="3.933">0 h</text>
<text transform="matrix(0.025 0 0 0.026 194.3 220.6)" fill="#2a2a2a" stroke="#2a2a2a" stroke-width="3.933">8 h</text>
<text transform="matrix(0.025 0 0 0.026 194.3 226.7)" fill="#2a2a2a" stroke="#2a2a2a" stroke-width="3.933">24 h</text>
<text transform="matrix(0.025 0 0 0.026 194.3 232.8)" fill="#2a2a2a" stroke="#2a2a2a" stroke-width="3.933">48 h</text>
<text transform="matrix(0.025 0 0 0.026 194.3 238.8)" fill="#2a2a2a" stroke="#2a2a2a" stroke-width="3.933">72 h</text>
<text transform="matrix(0.029 0 0 0.031 48.2 271.3)" fill="#202020" stroke="#202020" stroke-width="10.038">NP</text>
<text transform="matrix(0.029 0 0 0.031 60 271.3)" fill="#202020" stroke="#202020" stroke-width="10.038">0</text>
<text transform="matrix(0.029 0 0 0.031 70.4 271.3)" fill="#202020" stroke="#202020" stroke-width="10.038">8</text>
<text transform="matrix(0.029 0 0 0.031 79.1 271.3)" fill="#202020" stroke="#202020" stroke-width="10.038">24</text>
<text transform="matrix(0.029 0 0 0.031 89.9 271.3)" fill="#202020" stroke="#202020" stroke-width="10.038">48</text>
<text transform="matrix(0.029 0 0 0.031 100.5 271.3)" fill="#202020" stroke="#202020" stroke-width="10.038">72</text>
<text transform="matrix(0.035 0 0 0.031 108.6 271.3)" fill="#202020" stroke="#202020" stroke-width="9.106">(h)</text>
<text transform="matrix(0.059 0 0 0.069 229.9 182.803)" fill="#1a1a1a" stroke="#1a1a1a" stroke-width="7.077">(e)</text>
<text transform="matrix(0 -0.039 0.041 0 252 274.8)" fill="#222" stroke="#222" stroke-width="7.039">Absorbance (O.D.)</text>
<text transform="matrix(0.04 0 0 0.04 317.7 327.1)" fill="#222" stroke="#222" stroke-width="6.99">Wavelength (nm)</text>
<text transform="matrix(0.04 0 0 0.043 301.9 193.5)" fill="#1e1e1e" stroke="#1e1e1e" stroke-width="8.139">20 nm Au-Ag</text>
<text transform="matrix(0.026 0 0 0.029 348.7 195.1)" fill="#1e1e1e" stroke="#1e1e1e" stroke-width="7.272">1000/1</text>
<text transform="matrix(0.033 0 0 0.043 367.5 193.5)" fill="#1e1e1e" stroke="#1e1e1e" stroke-width="8.931">NPs</text>
<text transform="matrix(0.026 0 0 0.027 257.832 296.5)" fill="#2a2a2a" stroke="#2a2a2a" stroke-width="8.316">0.0</text>
<text transform="matrix(0.026 0 0 0.027 257.832 277.45)" fill="#2a2a2a" stroke="#2a2a2a" stroke-width="8.316">0.1</text>
<text transform="matrix(0.026 0 0 0.027 257.832 258.4)" fill="#2a2a2a" stroke="#2a2a2a" stroke-width="8.316">0.2</text>
<text transform="matrix(0.026 0 0 0.027 257.832 239.35)" fill="#2a2a2a" stroke="#2a2a2a" stroke-width="8.316">0.3</text>
<text transform="matrix(0.026 0 0 0.027 257.832 220.3)" fill="#2a2a2a" stroke="#2a2a2a" stroke-width="8.316">0.4</text>
<text transform="matrix(0.026 0 0 0.027 257.832 201.25)" fill="#2a2a2a" stroke="#2a2a2a" stroke-width="8.316">0.5</text>
<text transform="matrix(0.026 0 0 0.027 257.832 182.2)" fill="#2a2a2a" stroke="#2a2a2a" stroke-width="8.316">0.6</text>
<text transform="matrix(0.025 0 0 0.027 265.13 312.925)" fill="#2a2a2a" stroke="#2a2a2a" stroke-width="8.45">400</text>
<text transform="matrix(0.025 0 0 0.027 293.78 312.925)" fill="#2a2a2a" stroke="#2a2a2a" stroke-width="8.45">450</text>
<text transform="matrix(0.025 0 0 0.027 322.43 312.925)" fill="#2a2a2a" stroke="#2a2a2a" stroke-width="8.45">500</text>
<text transform="matrix(0.025 0 0 0.027 351.08 312.925)" fill="#2a2a2a" stroke="#2a2a2a" stroke-width="8.45">550</text>
<text transform="matrix(0.025 0 0 0.027 379.73 312.925)" fill="#2a2a2a" stroke="#2a2a2a" stroke-width="8.45">600</text>
<text transform="matrix(0.025 0 0 0.027 408.38 312.925)" fill="#2a2a2a" stroke="#2a2a2a" stroke-width="8.45">650</text>
<text transform="matrix(0.025 0 0 0.027 437.03 312.925)" fill="#2a2a2a" stroke="#2a2a2a" stroke-width="8.45">700</text>
<text transform="matrix(0.025 0 0 0.026 427 207.3)" fill="#2a2a2a" stroke="#2a2a2a" stroke-width="3.933">total</text>
<text transform="matrix(0.025 0 0 0.026 427 213.4)" fill="#2a2a2a" stroke="#2a2a2a" stroke-width="3.933">0 h</text>
<text transform="matrix(0.025 0 0 0.026 427 219.3)" fill="#2a2a2a" stroke="#2a2a2a" stroke-width="3.933">8 h</text>
<text transform="matrix(0.025 0 0 0.026 427 225.5)" fill="#2a2a2a" stroke="#2a2a2a" stroke-width="3.933">24 h</text>
<text transform="matrix(0.025 0 0 0.026 427 231.7)" fill="#2a2a2a" stroke="#2a2a2a" stroke-width="3.933">48 h</text>
<text transform="matrix(0.025 0 0 0.026 427 237.8)" fill="#2a2a2a" stroke="#2a2a2a" stroke-width="3.933">72 h</text>
<text transform="matrix(0.029 0 0 0.032 274.2 271.3)" fill="#202020" stroke="#202020" stroke-width="9.81">NP</text>
<text transform="matrix(0.029 0 0 0.032 286.9 271.3)" fill="#202020" stroke="#202020" stroke-width="9.81">0</text>
<text transform="matrix(0.029 0 0 0.032 296.8 271.3)" fill="#202020" stroke="#202020" stroke-width="9.81">8</text>
<text transform="matrix(0.029 0 0 0.032 304.1 271.3)" fill="#202020" stroke="#202020" stroke-width="9.81">24</text>
<text transform="matrix(0.029 0 0 0.032 314.1 271.3)" fill="#202020" stroke="#202020" stroke-width="9.81">48</text>
<text transform="matrix(0.029 0 0 0.032 324.5 271.3)" fill="#202020" stroke="#202020" stroke-width="9.81">72</text>
<text transform="matrix(0.032 0 0 0.032 333.5 271.3)" fill="#202020" stroke="#202020" stroke-width="9.337">(h)</text>
<text transform="matrix(0.061 0 0 0.07 458.3 182.88)" fill="#1a1a1a" stroke="#1a1a1a" stroke-width="6.919">(f)</text>
<text transform="matrix(0 -0.039 0.041 0 480.65 273.3)" fill="#222" stroke="#222" stroke-width="7.05">Absorbance (O.D.)</text>
<text transform="matrix(0.04 0 0 0.041 546.3 326.6)" fill="#222" stroke="#222" stroke-width="6.944">Wavelength (nm)</text>
<text transform="matrix(0.04 0 0 0.043 536.8 193.5)" fill="#1e1e1e" stroke="#1e1e1e" stroke-width="8.121">20 nm Au-Ag</text>
<text transform="matrix(0.026 0 0 0.029 583.8 195.1)" fill="#1e1e1e" stroke="#1e1e1e" stroke-width="7.317">100/1</text>
<text transform="matrix(0.033 0 0 0.043 599.5 193.5)" fill="#1e1e1e" stroke="#1e1e1e" stroke-width="8.931">NPs</text>
<text transform="matrix(0.026 0 0 0.027 485.732 296.8)" fill="#2a2a2a" stroke="#2a2a2a" stroke-width="8.316">0.0</text>
<text transform="matrix(0.026 0 0 0.027 485.732 277.717)" fill="#2a2a2a" stroke="#2a2a2a" stroke-width="8.316">0.1</text>
<text transform="matrix(0.026 0 0 0.027 485.732 258.633)" fill="#2a2a2a" stroke="#2a2a2a" stroke-width="8.316">0.2</text>
<text transform="matrix(0.026 0 0 0.027 485.732 239.55)" fill="#2a2a2a" stroke="#2a2a2a" stroke-width="8.316">0.3</text>
<text transform="matrix(0.026 0 0 0.027 485.732 220.467)" fill="#2a2a2a" stroke="#2a2a2a" stroke-width="8.316">0.4</text>
<text transform="matrix(0.026 0 0 0.027 485.732 201.383)" fill="#2a2a2a" stroke="#2a2a2a" stroke-width="8.316">0.5</text>
<text transform="matrix(0.026 0 0 0.027 485.732 182.3)" fill="#2a2a2a" stroke="#2a2a2a" stroke-width="8.316">0.6</text>
<text transform="matrix(0.025 0 0 0.027 493.03 313.242)" fill="#2a2a2a" stroke="#2a2a2a" stroke-width="8.45">400</text>
<text transform="matrix(0.025 0 0 0.027 521.696 313.242)" fill="#2a2a2a" stroke="#2a2a2a" stroke-width="8.45">450</text>
<text transform="matrix(0.025 0 0 0.027 550.363 313.242)" fill="#2a2a2a" stroke="#2a2a2a" stroke-width="8.45">500</text>
<text transform="matrix(0.025 0 0 0.027 579.03 313.242)" fill="#2a2a2a" stroke="#2a2a2a" stroke-width="8.45">550</text>
<text transform="matrix(0.025 0 0 0.027 607.696 313.242)" fill="#2a2a2a" stroke="#2a2a2a" stroke-width="8.45">600</text>
<text transform="matrix(0.025 0 0 0.027 636.363 313.242)" fill="#2a2a2a" stroke="#2a2a2a" stroke-width="8.45">650</text>
<text transform="matrix(0.025 0 0 0.027 665.03 313.242)" fill="#2a2a2a" stroke="#2a2a2a" stroke-width="8.45">700</text>
<text transform="matrix(0.025 0 0 0.026 655 208.8)" fill="#2a2a2a" stroke="#2a2a2a" stroke-width="3.933">total</text>
<text transform="matrix(0.025 0 0 0.026 655 214.7)" fill="#2a2a2a" stroke="#2a2a2a" stroke-width="3.933">0 h</text>
<text transform="matrix(0.025 0 0 0.026 655 220.6)" fill="#2a2a2a" stroke="#2a2a2a" stroke-width="3.933">8 h</text>
<text transform="matrix(0.025 0 0 0.026 655 226.7)" fill="#2a2a2a" stroke="#2a2a2a" stroke-width="3.933">24 h</text>
<text transform="matrix(0.025 0 0 0.026 655 232.8)" fill="#2a2a2a" stroke="#2a2a2a" stroke-width="3.933">48 h</text>
<text transform="matrix(0.025 0 0 0.026 655 238.8)" fill="#2a2a2a" stroke="#2a2a2a" stroke-width="3.933">72 h</text>
<text transform="matrix(0.029 0 0 0.031 504 272.1)" fill="#202020" stroke="#202020" stroke-width="10.038">NP</text>
<text transform="matrix(0.029 0 0 0.031 515.7 272.1)" fill="#202020" stroke="#202020" stroke-width="10.038">0</text>
<text transform="matrix(0.029 0 0 0.031 526.3 272.1)" fill="#202020" stroke="#202020" stroke-width="10.038">8</text>
<text transform="matrix(0.029 0 0 0.031 533.7 272.1)" fill="#202020" stroke="#202020" stroke-width="10.038">24</text>
<text transform="matrix(0.029 0 0 0.031 544.1 272.1)" fill="#202020" stroke="#202020" stroke-width="10.038">48</text>
<text transform="matrix(0.029 0 0 0.031 555 272.1)" fill="#202020" stroke="#202020" stroke-width="10.038">72</text>
<text transform="matrix(0.034 0 0 0.031 563.5 272.1)" fill="#202020" stroke="#202020" stroke-width="9.215">(h)</text>
</g>
</svg>
</body></html>
